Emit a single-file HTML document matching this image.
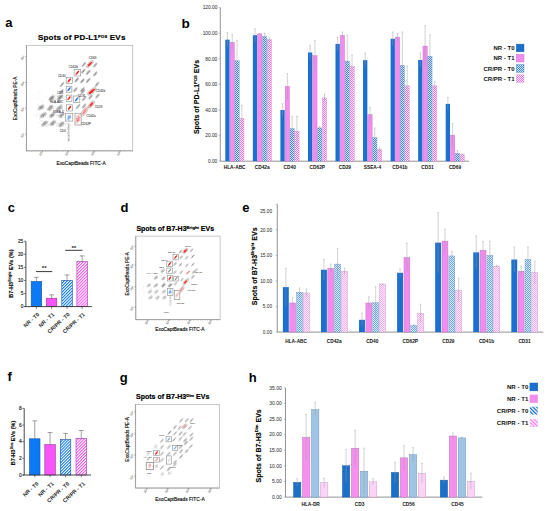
<!DOCTYPE html>
<html><head><meta charset="utf-8"><style>
html,body{margin:0;padding:0;background:#fff;width:550px;height:511px;overflow:hidden}
svg{display:block;font-family:"Liberation Sans", sans-serif}
</style></head><body>
<svg width="550" height="511" viewBox="0 0 550 511">
<defs><pattern id="chkB" width="2.0" height="2.0" patternUnits="userSpaceOnUse"><rect width="2.0" height="2.0" fill="#d8e8f8"/><rect width="1.0" height="1.0" fill="#3a86da"/><rect x="1.0" y="1.0" width="1.0" height="1.0" fill="#3a86da"/></pattern><pattern id="chkP" width="2.0" height="2.0" patternUnits="userSpaceOnUse"><rect width="2.0" height="2.0" fill="#fde6fc"/><rect width="1.0" height="1.0" fill="#ea7ae8"/><rect x="1.0" y="1.0" width="1.0" height="1.0" fill="#ea7ae8"/></pattern><pattern id="chkB2" width="2.0" height="2.0" patternUnits="userSpaceOnUse"><rect width="2.0" height="2.0" fill="#d8eaf9"/><rect width="1.0" height="1.0" fill="#6aa8e8"/><rect x="1.0" y="1.0" width="1.0" height="1.0" fill="#6aa8e8"/></pattern><pattern id="chkP2" width="2.0" height="2.0" patternUnits="userSpaceOnUse"><rect width="2.0" height="2.0" fill="#fde8fc"/><rect width="1.0" height="1.0" fill="#f4aef0"/><rect x="1.0" y="1.0" width="1.0" height="1.0" fill="#f4aef0"/></pattern><pattern id="strB" width="2.6" height="2.6" patternUnits="userSpaceOnUse" patternTransform="rotate(-45)"><rect width="2.6" height="2.6" fill="#fff"/><rect width="1.3" height="2.6" fill="#1b6fd0"/></pattern><pattern id="strP" width="2.6" height="2.6" patternUnits="userSpaceOnUse" patternTransform="rotate(-45)"><rect width="2.6" height="2.6" fill="#fff"/><rect width="1.3" height="2.6" fill="#f07cf0"/></pattern><pattern id="gpB" width="2.1" height="2.1" patternUnits="userSpaceOnUse" patternTransform="rotate(45)"><rect width="2.1" height="2.1" fill="#fff"/><rect width="1.05" height="2.1" fill="#0d7af5"/></pattern><pattern id="gpP" width="2.1" height="2.1" patternUnits="userSpaceOnUse" patternTransform="rotate(45)"><rect width="2.1" height="2.1" fill="#fff"/><rect width="1.05" height="2.1" fill="#f855f6"/></pattern><filter id="bl" x="-50%" y="-50%" width="200%" height="200%"><feGaussianBlur stdDeviation="0.3"/></filter><filter id="bl2" x="-50%" y="-50%" width="200%" height="200%"><feGaussianBlur stdDeviation="0.7"/></filter></defs>
<rect width="550" height="511" fill="#fff"/>
<text x="5.20" y="26.90" font-size="13" font-weight="bold" text-anchor="start" fill="#000" >a</text>
<text x="181.6" y="28.3" font-size="13.6" font-weight="bold" fill="#000">b</text>
<text x="7.80" y="212.20" font-size="13" font-weight="bold" text-anchor="start" fill="#000" >c</text>
<text x="120.50" y="212.00" font-size="13" font-weight="bold" text-anchor="start" fill="#000" >d</text>
<text x="242.30" y="212.10" font-size="13" font-weight="bold" text-anchor="start" fill="#000" >e</text>
<text x="7.60" y="380.50" font-size="13" font-weight="bold" text-anchor="start" fill="#000" >f</text>
<text x="119.80" y="381.50" font-size="13" font-weight="bold" text-anchor="start" fill="#000" >g</text>
<text x="248.80" y="382.30" font-size="13" font-weight="bold" text-anchor="start" fill="#000" >h</text>
<line x1="220.30" y1="7.70" x2="220.30" y2="161.20" stroke="#777" stroke-width="0.8" />
<line x1="220.30" y1="161.20" x2="469.00" y2="161.20" stroke="#777" stroke-width="0.8" />
<line x1="218.80" y1="161.20" x2="220.30" y2="161.20" stroke="#8a8a8a" stroke-width="0.6" />
<text x="217.30" y="162.90" font-size="4.8" font-weight="normal" text-anchor="end" fill="#222" >0.00</text>
<line x1="218.80" y1="135.62" x2="220.30" y2="135.62" stroke="#8a8a8a" stroke-width="0.6" />
<text x="217.30" y="137.32" font-size="4.8" font-weight="normal" text-anchor="end" fill="#222" >20.00</text>
<line x1="218.80" y1="110.03" x2="220.30" y2="110.03" stroke="#8a8a8a" stroke-width="0.6" />
<text x="217.30" y="111.73" font-size="4.8" font-weight="normal" text-anchor="end" fill="#222" >40.00</text>
<line x1="218.80" y1="84.45" x2="220.30" y2="84.45" stroke="#8a8a8a" stroke-width="0.6" />
<text x="217.30" y="86.15" font-size="4.8" font-weight="normal" text-anchor="end" fill="#222" >60.00</text>
<line x1="218.80" y1="58.87" x2="220.30" y2="58.87" stroke="#8a8a8a" stroke-width="0.6" />
<text x="217.30" y="60.57" font-size="4.8" font-weight="normal" text-anchor="end" fill="#222" >80.00</text>
<line x1="218.80" y1="33.28" x2="220.30" y2="33.28" stroke="#8a8a8a" stroke-width="0.6" />
<text x="217.30" y="34.98" font-size="4.8" font-weight="normal" text-anchor="end" fill="#222" >100.00</text>
<line x1="218.80" y1="7.70" x2="220.30" y2="7.70" stroke="#8a8a8a" stroke-width="0.6" />
<text x="217.30" y="9.40" font-size="4.8" font-weight="normal" text-anchor="end" fill="#222" >120.00</text>
<rect x="225.30" y="39.68" width="4.30" height="121.52" fill="#1b6fd0" stroke="none" stroke-width="0.4" />
<line x1="227.45" y1="32.64" x2="227.45" y2="46.71" stroke="#9a9a9a" stroke-width="0.45" />
<line x1="226.65" y1="32.64" x2="228.25" y2="32.64" stroke="#9a9a9a" stroke-width="0.45" />
<rect x="230.10" y="42.24" width="4.30" height="118.96" fill="#f48cf0" stroke="#c070c0" stroke-width="0.4" />
<line x1="232.25" y1="34.56" x2="232.25" y2="49.91" stroke="#9a9a9a" stroke-width="0.45" />
<line x1="231.45" y1="34.56" x2="233.05" y2="34.56" stroke="#9a9a9a" stroke-width="0.45" />
<rect x="234.90" y="60.79" width="4.30" height="100.41" fill="url(#chkB)" stroke="#7a9ac0" stroke-width="0.4" />
<line x1="237.05" y1="40.32" x2="237.05" y2="81.25" stroke="#9a9a9a" stroke-width="0.45" />
<line x1="236.25" y1="40.32" x2="237.85" y2="40.32" stroke="#9a9a9a" stroke-width="0.45" />
<rect x="239.70" y="118.35" width="4.30" height="42.85" fill="url(#chkP)" stroke="#c890c8" stroke-width="0.4" />
<line x1="241.85" y1="105.56" x2="241.85" y2="131.14" stroke="#9a9a9a" stroke-width="0.45" />
<line x1="241.05" y1="105.56" x2="242.65" y2="105.56" stroke="#9a9a9a" stroke-width="0.45" />
<text x="234.65" y="168.60" font-size="4.8" font-weight="bold" text-anchor="middle" fill="#111" >HLA-ABC</text>
<rect x="252.85" y="35.20" width="4.30" height="126.00" fill="#1b6fd0" stroke="none" stroke-width="0.4" />
<line x1="255.00" y1="28.81" x2="255.00" y2="41.60" stroke="#9a9a9a" stroke-width="0.45" />
<line x1="254.20" y1="28.81" x2="255.80" y2="28.81" stroke="#9a9a9a" stroke-width="0.45" />
<rect x="257.65" y="33.92" width="4.30" height="127.28" fill="#f48cf0" stroke="#c070c0" stroke-width="0.4" />
<line x1="259.80" y1="33.28" x2="259.80" y2="34.56" stroke="#9a9a9a" stroke-width="0.45" />
<line x1="259.00" y1="33.28" x2="260.60" y2="33.28" stroke="#9a9a9a" stroke-width="0.45" />
<rect x="262.45" y="36.48" width="4.30" height="124.72" fill="url(#chkB)" stroke="#7a9ac0" stroke-width="0.4" />
<line x1="264.60" y1="33.28" x2="264.60" y2="39.68" stroke="#9a9a9a" stroke-width="0.45" />
<line x1="263.80" y1="33.28" x2="265.40" y2="33.28" stroke="#9a9a9a" stroke-width="0.45" />
<rect x="267.25" y="39.68" width="4.30" height="121.52" fill="url(#chkP)" stroke="#c890c8" stroke-width="0.4" />
<line x1="269.40" y1="37.76" x2="269.40" y2="41.60" stroke="#9a9a9a" stroke-width="0.45" />
<line x1="268.60" y1="37.76" x2="270.20" y2="37.76" stroke="#9a9a9a" stroke-width="0.45" />
<text x="262.20" y="168.60" font-size="4.8" font-weight="bold" text-anchor="middle" fill="#111" >CD42a</text>
<rect x="280.40" y="110.03" width="4.30" height="51.17" fill="#1b6fd0" stroke="none" stroke-width="0.4" />
<line x1="282.55" y1="103.64" x2="282.55" y2="116.43" stroke="#9a9a9a" stroke-width="0.45" />
<line x1="281.75" y1="103.64" x2="283.35" y2="103.64" stroke="#9a9a9a" stroke-width="0.45" />
<rect x="285.20" y="86.37" width="4.30" height="74.83" fill="#f48cf0" stroke="#c070c0" stroke-width="0.4" />
<line x1="287.35" y1="73.58" x2="287.35" y2="99.16" stroke="#9a9a9a" stroke-width="0.45" />
<line x1="286.55" y1="73.58" x2="288.15" y2="73.58" stroke="#9a9a9a" stroke-width="0.45" />
<rect x="290.00" y="128.58" width="4.30" height="32.62" fill="url(#chkB)" stroke="#7a9ac0" stroke-width="0.4" />
<line x1="292.15" y1="116.43" x2="292.15" y2="140.73" stroke="#9a9a9a" stroke-width="0.45" />
<line x1="291.35" y1="116.43" x2="292.95" y2="116.43" stroke="#9a9a9a" stroke-width="0.45" />
<rect x="294.80" y="131.14" width="4.30" height="30.06" fill="url(#chkP)" stroke="#c890c8" stroke-width="0.4" />
<line x1="296.95" y1="116.43" x2="296.95" y2="145.85" stroke="#9a9a9a" stroke-width="0.45" />
<line x1="296.15" y1="116.43" x2="297.75" y2="116.43" stroke="#9a9a9a" stroke-width="0.45" />
<text x="289.75" y="168.60" font-size="4.8" font-weight="bold" text-anchor="middle" fill="#111" >CD40</text>
<rect x="307.95" y="52.47" width="4.30" height="108.73" fill="#1b6fd0" stroke="none" stroke-width="0.4" />
<line x1="310.10" y1="45.44" x2="310.10" y2="59.51" stroke="#9a9a9a" stroke-width="0.45" />
<line x1="309.30" y1="45.44" x2="310.90" y2="45.44" stroke="#9a9a9a" stroke-width="0.45" />
<rect x="312.75" y="55.67" width="4.30" height="105.53" fill="#f48cf0" stroke="#c070c0" stroke-width="0.4" />
<line x1="314.90" y1="40.32" x2="314.90" y2="71.02" stroke="#9a9a9a" stroke-width="0.45" />
<line x1="314.10" y1="40.32" x2="315.70" y2="40.32" stroke="#9a9a9a" stroke-width="0.45" />
<rect x="317.55" y="127.94" width="4.30" height="33.26" fill="url(#chkB)" stroke="#7a9ac0" stroke-width="0.4" />
<line x1="319.70" y1="126.66" x2="319.70" y2="129.22" stroke="#9a9a9a" stroke-width="0.45" />
<line x1="318.90" y1="126.66" x2="320.50" y2="126.66" stroke="#9a9a9a" stroke-width="0.45" />
<rect x="322.35" y="97.88" width="4.30" height="63.32" fill="url(#chkP)" stroke="#c890c8" stroke-width="0.4" />
<line x1="324.50" y1="94.04" x2="324.50" y2="101.72" stroke="#9a9a9a" stroke-width="0.45" />
<line x1="323.70" y1="94.04" x2="325.30" y2="94.04" stroke="#9a9a9a" stroke-width="0.45" />
<text x="317.30" y="168.60" font-size="4.8" font-weight="bold" text-anchor="middle" fill="#111" >CD62P</text>
<rect x="335.50" y="43.90" width="4.30" height="117.30" fill="#1b6fd0" stroke="none" stroke-width="0.4" />
<line x1="337.65" y1="37.12" x2="337.65" y2="50.68" stroke="#9a9a9a" stroke-width="0.45" />
<line x1="336.85" y1="37.12" x2="338.45" y2="37.12" stroke="#9a9a9a" stroke-width="0.45" />
<rect x="340.30" y="35.46" width="4.30" height="125.74" fill="#f48cf0" stroke="#c070c0" stroke-width="0.4" />
<line x1="342.45" y1="32.00" x2="342.45" y2="38.91" stroke="#9a9a9a" stroke-width="0.45" />
<line x1="341.65" y1="32.00" x2="343.25" y2="32.00" stroke="#9a9a9a" stroke-width="0.45" />
<rect x="345.10" y="61.04" width="4.30" height="100.16" fill="url(#chkB)" stroke="#7a9ac0" stroke-width="0.4" />
<line x1="347.25" y1="35.46" x2="347.25" y2="86.62" stroke="#9a9a9a" stroke-width="0.45" />
<line x1="346.45" y1="35.46" x2="348.05" y2="35.46" stroke="#9a9a9a" stroke-width="0.45" />
<rect x="349.90" y="66.67" width="4.30" height="94.53" fill="url(#chkP)" stroke="#c890c8" stroke-width="0.4" />
<line x1="352.05" y1="55.03" x2="352.05" y2="78.31" stroke="#9a9a9a" stroke-width="0.45" />
<line x1="351.25" y1="55.03" x2="352.85" y2="55.03" stroke="#9a9a9a" stroke-width="0.45" />
<text x="344.85" y="168.60" font-size="4.8" font-weight="bold" text-anchor="middle" fill="#111" >CD29</text>
<rect x="363.05" y="60.15" width="4.30" height="101.05" fill="#1b6fd0" stroke="none" stroke-width="0.4" />
<line x1="365.20" y1="53.11" x2="365.20" y2="67.18" stroke="#9a9a9a" stroke-width="0.45" />
<line x1="364.40" y1="53.11" x2="366.00" y2="53.11" stroke="#9a9a9a" stroke-width="0.45" />
<rect x="367.85" y="114.51" width="4.30" height="46.69" fill="#f48cf0" stroke="#c070c0" stroke-width="0.4" />
<line x1="370.00" y1="107.47" x2="370.00" y2="121.55" stroke="#9a9a9a" stroke-width="0.45" />
<line x1="369.20" y1="107.47" x2="370.80" y2="107.47" stroke="#9a9a9a" stroke-width="0.45" />
<rect x="372.65" y="137.54" width="4.30" height="23.66" fill="url(#chkB)" stroke="#7a9ac0" stroke-width="0.4" />
<line x1="374.80" y1="127.94" x2="374.80" y2="147.13" stroke="#9a9a9a" stroke-width="0.45" />
<line x1="374.00" y1="127.94" x2="375.60" y2="127.94" stroke="#9a9a9a" stroke-width="0.45" />
<rect x="377.45" y="149.69" width="4.30" height="11.51" fill="url(#chkP)" stroke="#c890c8" stroke-width="0.4" />
<line x1="379.60" y1="147.77" x2="379.60" y2="151.61" stroke="#9a9a9a" stroke-width="0.45" />
<line x1="378.80" y1="147.77" x2="380.40" y2="147.77" stroke="#9a9a9a" stroke-width="0.45" />
<text x="372.40" y="168.60" font-size="4.8" font-weight="bold" text-anchor="middle" fill="#111" >SSEA-4</text>
<rect x="390.60" y="38.78" width="4.30" height="122.42" fill="#1b6fd0" stroke="none" stroke-width="0.4" />
<line x1="392.75" y1="32.00" x2="392.75" y2="45.56" stroke="#9a9a9a" stroke-width="0.45" />
<line x1="391.95" y1="32.00" x2="393.55" y2="32.00" stroke="#9a9a9a" stroke-width="0.45" />
<rect x="395.40" y="37.12" width="4.30" height="124.08" fill="#f48cf0" stroke="#c070c0" stroke-width="0.4" />
<line x1="397.55" y1="33.16" x2="397.55" y2="41.09" stroke="#9a9a9a" stroke-width="0.45" />
<line x1="396.75" y1="33.16" x2="398.35" y2="33.16" stroke="#9a9a9a" stroke-width="0.45" />
<rect x="400.20" y="65.26" width="4.30" height="95.94" fill="url(#chkB)" stroke="#7a9ac0" stroke-width="0.4" />
<line x1="402.35" y1="32.00" x2="402.35" y2="98.52" stroke="#9a9a9a" stroke-width="0.45" />
<line x1="401.55" y1="32.00" x2="403.15" y2="32.00" stroke="#9a9a9a" stroke-width="0.45" />
<rect x="405.00" y="85.86" width="4.30" height="75.34" fill="url(#chkP)" stroke="#c890c8" stroke-width="0.4" />
<line x1="407.15" y1="65.90" x2="407.15" y2="105.81" stroke="#9a9a9a" stroke-width="0.45" />
<line x1="406.35" y1="65.90" x2="407.95" y2="65.90" stroke="#9a9a9a" stroke-width="0.45" />
<text x="399.95" y="168.60" font-size="4.8" font-weight="bold" text-anchor="middle" fill="#111" >CD41b</text>
<rect x="418.15" y="60.02" width="4.30" height="101.18" fill="#1b6fd0" stroke="none" stroke-width="0.4" />
<line x1="420.30" y1="52.98" x2="420.30" y2="67.05" stroke="#9a9a9a" stroke-width="0.45" />
<line x1="419.50" y1="52.98" x2="421.10" y2="52.98" stroke="#9a9a9a" stroke-width="0.45" />
<rect x="422.95" y="46.08" width="4.30" height="115.12" fill="#f48cf0" stroke="#c070c0" stroke-width="0.4" />
<line x1="425.10" y1="25.74" x2="425.10" y2="66.41" stroke="#9a9a9a" stroke-width="0.45" />
<line x1="424.30" y1="25.74" x2="425.90" y2="25.74" stroke="#9a9a9a" stroke-width="0.45" />
<rect x="427.75" y="56.18" width="4.30" height="105.02" fill="url(#chkB)" stroke="#7a9ac0" stroke-width="0.4" />
<line x1="429.90" y1="34.95" x2="429.90" y2="77.41" stroke="#9a9a9a" stroke-width="0.45" />
<line x1="429.10" y1="34.95" x2="430.70" y2="34.95" stroke="#9a9a9a" stroke-width="0.45" />
<rect x="432.55" y="85.86" width="4.30" height="75.34" fill="url(#chkP)" stroke="#c890c8" stroke-width="0.4" />
<line x1="434.70" y1="81.51" x2="434.70" y2="90.21" stroke="#9a9a9a" stroke-width="0.45" />
<line x1="433.90" y1="81.51" x2="435.50" y2="81.51" stroke="#9a9a9a" stroke-width="0.45" />
<text x="427.50" y="168.60" font-size="4.8" font-weight="bold" text-anchor="middle" fill="#111" >CD31</text>
<rect x="445.70" y="103.89" width="4.30" height="57.31" fill="#1b6fd0" stroke="none" stroke-width="0.4" />
<line x1="447.85" y1="97.50" x2="447.85" y2="110.29" stroke="#9a9a9a" stroke-width="0.45" />
<line x1="447.05" y1="97.50" x2="448.65" y2="97.50" stroke="#9a9a9a" stroke-width="0.45" />
<rect x="450.50" y="135.10" width="4.30" height="26.09" fill="#f48cf0" stroke="#c070c0" stroke-width="0.4" />
<line x1="452.65" y1="123.59" x2="452.65" y2="146.62" stroke="#9a9a9a" stroke-width="0.45" />
<line x1="451.85" y1="123.59" x2="453.45" y2="123.59" stroke="#9a9a9a" stroke-width="0.45" />
<rect x="455.30" y="153.27" width="4.30" height="7.93" fill="url(#chkB)" stroke="#7a9ac0" stroke-width="0.4" />
<line x1="457.45" y1="150.58" x2="457.45" y2="155.96" stroke="#9a9a9a" stroke-width="0.45" />
<line x1="456.65" y1="150.58" x2="458.25" y2="150.58" stroke="#9a9a9a" stroke-width="0.45" />
<rect x="460.10" y="154.80" width="4.30" height="6.40" fill="url(#chkP)" stroke="#c890c8" stroke-width="0.4" />
<line x1="462.25" y1="154.04" x2="462.25" y2="155.57" stroke="#9a9a9a" stroke-width="0.45" />
<line x1="461.45" y1="154.04" x2="463.05" y2="154.04" stroke="#9a9a9a" stroke-width="0.45" />
<text x="455.05" y="168.60" font-size="4.8" font-weight="bold" text-anchor="middle" fill="#111" >CD69</text>
<text transform="translate(199.2,97) rotate(-90)" font-size="7" font-weight="bold" text-anchor="middle" fill="#000" stroke="#000" stroke-width="0.15">Spots of PD-L1<tspan font-size="4.2" dy="-2.6">POS</tspan><tspan dy="2.6"> EVs</tspan></text>
<line x1="277.30" y1="204.30" x2="277.30" y2="332.10" stroke="#777" stroke-width="0.8" />
<line x1="277.30" y1="332.10" x2="543.30" y2="332.10" stroke="#777" stroke-width="0.8" />
<line x1="275.80" y1="332.10" x2="277.30" y2="332.10" stroke="#8a8a8a" stroke-width="0.6" />
<text x="272.10" y="333.80" font-size="4.75" font-weight="normal" text-anchor="end" fill="#222" >0.00</text>
<line x1="275.80" y1="306.54" x2="277.30" y2="306.54" stroke="#8a8a8a" stroke-width="0.6" />
<text x="272.10" y="308.24" font-size="4.75" font-weight="normal" text-anchor="end" fill="#222" >5.00</text>
<line x1="275.80" y1="280.98" x2="277.30" y2="280.98" stroke="#8a8a8a" stroke-width="0.6" />
<text x="272.10" y="282.68" font-size="4.75" font-weight="normal" text-anchor="end" fill="#222" >10.00</text>
<line x1="275.80" y1="255.42" x2="277.30" y2="255.42" stroke="#8a8a8a" stroke-width="0.6" />
<text x="272.10" y="257.12" font-size="4.75" font-weight="normal" text-anchor="end" fill="#222" >15.00</text>
<line x1="275.80" y1="229.86" x2="277.30" y2="229.86" stroke="#8a8a8a" stroke-width="0.6" />
<text x="272.10" y="231.56" font-size="4.75" font-weight="normal" text-anchor="end" fill="#222" >20.00</text>
<line x1="275.80" y1="204.30" x2="277.30" y2="204.30" stroke="#8a8a8a" stroke-width="0.6" />
<text x="272.10" y="212.70" font-size="4.75" font-weight="normal" text-anchor="end" fill="#222" >25.00</text>
<rect x="282.90" y="287.11" width="5.90" height="44.99" fill="#1b6fd0" stroke="none" stroke-width="0.4" />
<line x1="285.85" y1="268.20" x2="285.85" y2="306.03" stroke="#9a9a9a" stroke-width="0.45" />
<line x1="285.05" y1="268.20" x2="286.65" y2="268.20" stroke="#9a9a9a" stroke-width="0.45" />
<rect x="289.75" y="302.96" width="5.90" height="29.14" fill="#f48cf0" stroke="#b070b0" stroke-width="0.4" />
<line x1="292.70" y1="297.85" x2="292.70" y2="308.07" stroke="#9a9a9a" stroke-width="0.45" />
<line x1="291.90" y1="297.85" x2="293.50" y2="297.85" stroke="#9a9a9a" stroke-width="0.45" />
<rect x="296.60" y="292.23" width="5.90" height="39.87" fill="url(#chkB2)" stroke="#6a8fb8" stroke-width="0.4" />
<line x1="299.55" y1="287.88" x2="299.55" y2="296.57" stroke="#9a9a9a" stroke-width="0.45" />
<line x1="298.75" y1="287.88" x2="300.35" y2="287.88" stroke="#9a9a9a" stroke-width="0.45" />
<rect x="303.45" y="292.99" width="5.90" height="39.11" fill="url(#chkP2)" stroke="#c090c0" stroke-width="0.4" />
<line x1="306.40" y1="288.90" x2="306.40" y2="297.08" stroke="#9a9a9a" stroke-width="0.45" />
<line x1="305.60" y1="288.90" x2="307.20" y2="288.90" stroke="#9a9a9a" stroke-width="0.45" />
<text x="296.12" y="343.40" font-size="4.8" font-weight="bold" text-anchor="middle" fill="#111" >HLA-ABC</text>
<rect x="320.97" y="269.73" width="5.90" height="62.37" fill="#1b6fd0" stroke="none" stroke-width="0.4" />
<line x1="323.92" y1="259.25" x2="323.92" y2="280.21" stroke="#9a9a9a" stroke-width="0.45" />
<line x1="323.12" y1="259.25" x2="324.72" y2="259.25" stroke="#9a9a9a" stroke-width="0.45" />
<rect x="327.82" y="268.20" width="5.90" height="63.90" fill="#f48cf0" stroke="#b070b0" stroke-width="0.4" />
<line x1="330.77" y1="264.11" x2="330.77" y2="272.29" stroke="#9a9a9a" stroke-width="0.45" />
<line x1="329.97" y1="264.11" x2="331.57" y2="264.11" stroke="#9a9a9a" stroke-width="0.45" />
<rect x="334.67" y="264.11" width="5.90" height="67.99" fill="url(#chkB2)" stroke="#6a8fb8" stroke-width="0.4" />
<line x1="337.62" y1="248.52" x2="337.62" y2="279.70" stroke="#9a9a9a" stroke-width="0.45" />
<line x1="336.82" y1="248.52" x2="338.42" y2="248.52" stroke="#9a9a9a" stroke-width="0.45" />
<rect x="341.52" y="271.27" width="5.90" height="60.83" fill="url(#chkP2)" stroke="#c090c0" stroke-width="0.4" />
<line x1="344.47" y1="268.20" x2="344.47" y2="274.33" stroke="#9a9a9a" stroke-width="0.45" />
<line x1="343.67" y1="268.20" x2="345.27" y2="268.20" stroke="#9a9a9a" stroke-width="0.45" />
<text x="334.19" y="343.40" font-size="4.8" font-weight="bold" text-anchor="middle" fill="#111" >CD42a</text>
<rect x="359.04" y="319.83" width="5.90" height="12.27" fill="#1b6fd0" stroke="none" stroke-width="0.4" />
<line x1="361.99" y1="313.19" x2="361.99" y2="326.48" stroke="#9a9a9a" stroke-width="0.45" />
<line x1="361.19" y1="313.19" x2="362.79" y2="313.19" stroke="#9a9a9a" stroke-width="0.45" />
<rect x="365.89" y="302.96" width="5.90" height="29.14" fill="#f48cf0" stroke="#b070b0" stroke-width="0.4" />
<line x1="368.84" y1="296.83" x2="368.84" y2="309.10" stroke="#9a9a9a" stroke-width="0.45" />
<line x1="368.04" y1="296.83" x2="369.64" y2="296.83" stroke="#9a9a9a" stroke-width="0.45" />
<rect x="372.74" y="302.71" width="5.90" height="29.39" fill="url(#chkB2)" stroke="#6a8fb8" stroke-width="0.4" />
<line x1="375.69" y1="286.60" x2="375.69" y2="318.81" stroke="#9a9a9a" stroke-width="0.45" />
<line x1="374.89" y1="286.60" x2="376.49" y2="286.60" stroke="#9a9a9a" stroke-width="0.45" />
<rect x="379.59" y="284.05" width="5.90" height="48.05" fill="url(#chkP2)" stroke="#c090c0" stroke-width="0.4" />
<line x1="382.54" y1="283.79" x2="382.54" y2="284.30" stroke="#9a9a9a" stroke-width="0.45" />
<line x1="381.74" y1="283.79" x2="383.34" y2="283.79" stroke="#9a9a9a" stroke-width="0.45" />
<text x="372.26" y="343.40" font-size="4.8" font-weight="bold" text-anchor="middle" fill="#111" >CD40</text>
<rect x="397.11" y="272.80" width="5.90" height="59.30" fill="#1b6fd0" stroke="none" stroke-width="0.4" />
<line x1="400.06" y1="268.71" x2="400.06" y2="276.89" stroke="#9a9a9a" stroke-width="0.45" />
<line x1="399.26" y1="268.71" x2="400.86" y2="268.71" stroke="#9a9a9a" stroke-width="0.45" />
<rect x="403.96" y="257.46" width="5.90" height="74.64" fill="#f48cf0" stroke="#b070b0" stroke-width="0.4" />
<line x1="406.91" y1="243.15" x2="406.91" y2="271.78" stroke="#9a9a9a" stroke-width="0.45" />
<line x1="406.11" y1="243.15" x2="407.71" y2="243.15" stroke="#9a9a9a" stroke-width="0.45" />
<rect x="410.81" y="325.45" width="5.90" height="6.65" fill="url(#chkB2)" stroke="#6a8fb8" stroke-width="0.4" />
<line x1="413.76" y1="324.69" x2="413.76" y2="326.22" stroke="#9a9a9a" stroke-width="0.45" />
<line x1="412.96" y1="324.69" x2="414.56" y2="324.69" stroke="#9a9a9a" stroke-width="0.45" />
<rect x="417.66" y="313.19" width="5.90" height="18.91" fill="url(#chkP2)" stroke="#c090c0" stroke-width="0.4" />
<line x1="420.61" y1="304.24" x2="420.61" y2="322.13" stroke="#9a9a9a" stroke-width="0.45" />
<line x1="419.81" y1="304.24" x2="421.41" y2="304.24" stroke="#9a9a9a" stroke-width="0.45" />
<text x="410.34" y="343.40" font-size="4.8" font-weight="bold" text-anchor="middle" fill="#111" >CD62P</text>
<rect x="435.18" y="242.64" width="5.90" height="89.46" fill="#1b6fd0" stroke="none" stroke-width="0.4" />
<line x1="438.13" y1="212.48" x2="438.13" y2="272.80" stroke="#9a9a9a" stroke-width="0.45" />
<line x1="437.33" y1="212.48" x2="438.93" y2="212.48" stroke="#9a9a9a" stroke-width="0.45" />
<rect x="442.03" y="241.11" width="5.90" height="90.99" fill="#f48cf0" stroke="#b070b0" stroke-width="0.4" />
<line x1="444.98" y1="229.35" x2="444.98" y2="252.86" stroke="#9a9a9a" stroke-width="0.45" />
<line x1="444.18" y1="229.35" x2="445.78" y2="229.35" stroke="#9a9a9a" stroke-width="0.45" />
<rect x="448.88" y="255.93" width="5.90" height="76.17" fill="url(#chkB2)" stroke="#6a8fb8" stroke-width="0.4" />
<line x1="451.83" y1="251.33" x2="451.83" y2="260.53" stroke="#9a9a9a" stroke-width="0.45" />
<line x1="451.03" y1="251.33" x2="452.63" y2="251.33" stroke="#9a9a9a" stroke-width="0.45" />
<rect x="455.73" y="290.44" width="5.90" height="41.66" fill="url(#chkP2)" stroke="#c090c0" stroke-width="0.4" />
<line x1="458.68" y1="278.42" x2="458.68" y2="302.45" stroke="#9a9a9a" stroke-width="0.45" />
<line x1="457.88" y1="278.42" x2="459.48" y2="278.42" stroke="#9a9a9a" stroke-width="0.45" />
<text x="448.40" y="343.40" font-size="4.8" font-weight="bold" text-anchor="middle" fill="#111" >CD29</text>
<rect x="473.25" y="252.35" width="5.90" height="79.75" fill="#1b6fd0" stroke="none" stroke-width="0.4" />
<line x1="476.20" y1="235.99" x2="476.20" y2="268.71" stroke="#9a9a9a" stroke-width="0.45" />
<line x1="475.40" y1="235.99" x2="477.00" y2="235.99" stroke="#9a9a9a" stroke-width="0.45" />
<rect x="480.10" y="250.31" width="5.90" height="81.79" fill="#f48cf0" stroke="#b070b0" stroke-width="0.4" />
<line x1="483.05" y1="241.62" x2="483.05" y2="259.00" stroke="#9a9a9a" stroke-width="0.45" />
<line x1="482.25" y1="241.62" x2="483.85" y2="241.62" stroke="#9a9a9a" stroke-width="0.45" />
<rect x="486.95" y="255.42" width="5.90" height="76.68" fill="url(#chkB2)" stroke="#6a8fb8" stroke-width="0.4" />
<line x1="489.90" y1="241.11" x2="489.90" y2="269.73" stroke="#9a9a9a" stroke-width="0.45" />
<line x1="489.10" y1="241.11" x2="490.70" y2="241.11" stroke="#9a9a9a" stroke-width="0.45" />
<rect x="493.80" y="266.16" width="5.90" height="65.94" fill="url(#chkP2)" stroke="#c090c0" stroke-width="0.4" />
<line x1="496.75" y1="265.64" x2="496.75" y2="266.67" stroke="#9a9a9a" stroke-width="0.45" />
<line x1="495.95" y1="265.64" x2="497.55" y2="265.64" stroke="#9a9a9a" stroke-width="0.45" />
<text x="486.48" y="343.40" font-size="4.8" font-weight="bold" text-anchor="middle" fill="#111" >CD41b</text>
<rect x="511.32" y="259.51" width="5.90" height="72.59" fill="#1b6fd0" stroke="none" stroke-width="0.4" />
<line x1="514.27" y1="246.99" x2="514.27" y2="272.03" stroke="#9a9a9a" stroke-width="0.45" />
<line x1="513.47" y1="246.99" x2="515.07" y2="246.99" stroke="#9a9a9a" stroke-width="0.45" />
<rect x="518.17" y="271.27" width="5.90" height="60.83" fill="#f48cf0" stroke="#b070b0" stroke-width="0.4" />
<line x1="521.12" y1="266.16" x2="521.12" y2="276.38" stroke="#9a9a9a" stroke-width="0.45" />
<line x1="520.32" y1="266.16" x2="521.92" y2="266.16" stroke="#9a9a9a" stroke-width="0.45" />
<rect x="525.02" y="259.51" width="5.90" height="72.59" fill="url(#chkB2)" stroke="#6a8fb8" stroke-width="0.4" />
<line x1="527.97" y1="246.99" x2="527.97" y2="272.03" stroke="#9a9a9a" stroke-width="0.45" />
<line x1="527.17" y1="246.99" x2="528.77" y2="246.99" stroke="#9a9a9a" stroke-width="0.45" />
<rect x="531.87" y="272.55" width="5.90" height="59.55" fill="url(#chkP2)" stroke="#c090c0" stroke-width="0.4" />
<line x1="534.82" y1="261.04" x2="534.82" y2="284.05" stroke="#9a9a9a" stroke-width="0.45" />
<line x1="534.02" y1="261.04" x2="535.62" y2="261.04" stroke="#9a9a9a" stroke-width="0.45" />
<text x="524.54" y="343.40" font-size="4.8" font-weight="bold" text-anchor="middle" fill="#111" >CD31</text>
<text transform="translate(256.7,266.3) rotate(-90)" font-size="7" font-weight="bold" text-anchor="middle" fill="#000" stroke="#000" stroke-width="0.15">Spots of B7-H3<tspan font-size="4.2" dy="-2.6">Bright</tspan><tspan dy="2.6"> EVs</tspan></text>
<line x1="285.50" y1="388.00" x2="285.50" y2="497.10" stroke="#777" stroke-width="0.8" />
<line x1="285.50" y1="497.10" x2="482.30" y2="497.10" stroke="#777" stroke-width="0.8" />
<line x1="284.00" y1="497.10" x2="285.50" y2="497.10" stroke="#8a8a8a" stroke-width="0.6" />
<text x="281.80" y="498.80" font-size="5.0" font-weight="normal" text-anchor="end" fill="#222" >0.00</text>
<line x1="284.00" y1="481.51" x2="285.50" y2="481.51" stroke="#8a8a8a" stroke-width="0.6" />
<text x="281.80" y="483.21" font-size="5.0" font-weight="normal" text-anchor="end" fill="#222" >5.00</text>
<line x1="284.00" y1="465.93" x2="285.50" y2="465.93" stroke="#8a8a8a" stroke-width="0.6" />
<text x="281.80" y="467.63" font-size="5.0" font-weight="normal" text-anchor="end" fill="#222" >10.00</text>
<line x1="284.00" y1="450.34" x2="285.50" y2="450.34" stroke="#8a8a8a" stroke-width="0.6" />
<text x="281.80" y="452.04" font-size="5.0" font-weight="normal" text-anchor="end" fill="#222" >15.00</text>
<line x1="284.00" y1="434.76" x2="285.50" y2="434.76" stroke="#8a8a8a" stroke-width="0.6" />
<text x="281.80" y="436.46" font-size="5.0" font-weight="normal" text-anchor="end" fill="#222" >20.00</text>
<line x1="284.00" y1="419.17" x2="285.50" y2="419.17" stroke="#8a8a8a" stroke-width="0.6" />
<text x="281.80" y="420.87" font-size="5.0" font-weight="normal" text-anchor="end" fill="#222" >25.00</text>
<line x1="284.00" y1="403.59" x2="285.50" y2="403.59" stroke="#8a8a8a" stroke-width="0.6" />
<text x="281.80" y="405.29" font-size="5.0" font-weight="normal" text-anchor="end" fill="#222" >30.00</text>
<line x1="284.00" y1="388.00" x2="285.50" y2="388.00" stroke="#8a8a8a" stroke-width="0.6" />
<text x="281.80" y="389.70" font-size="5.0" font-weight="normal" text-anchor="end" fill="#222" >35.00</text>
<rect x="293.40" y="482.29" width="7.50" height="14.81" fill="#1b6fc8" stroke="#1d5fa8" stroke-width="0.4" />
<line x1="297.15" y1="478.71" x2="297.15" y2="485.88" stroke="#9a9a9a" stroke-width="0.45" />
<line x1="296.35" y1="478.71" x2="297.95" y2="478.71" stroke="#9a9a9a" stroke-width="0.45" />
<rect x="302.40" y="437.25" width="7.50" height="59.85" fill="#f590ef" stroke="#b070b0" stroke-width="0.4" />
<line x1="306.15" y1="414.18" x2="306.15" y2="460.32" stroke="#9a9a9a" stroke-width="0.45" />
<line x1="305.35" y1="414.18" x2="306.95" y2="414.18" stroke="#9a9a9a" stroke-width="0.45" />
<rect x="311.40" y="409.51" width="7.50" height="87.59" fill="#9ec4e6" stroke="#6a8fb8" stroke-width="0.4" />
<line x1="315.15" y1="402.34" x2="315.15" y2="416.68" stroke="#9a9a9a" stroke-width="0.45" />
<line x1="314.35" y1="402.34" x2="315.95" y2="402.34" stroke="#9a9a9a" stroke-width="0.45" />
<rect x="320.40" y="482.76" width="7.50" height="14.34" fill="#fcd4f8" stroke="#c090c0" stroke-width="0.4" />
<line x1="324.15" y1="478.09" x2="324.15" y2="487.44" stroke="#9a9a9a" stroke-width="0.45" />
<line x1="323.35" y1="478.09" x2="324.95" y2="478.09" stroke="#9a9a9a" stroke-width="0.45" />
<text x="310.65" y="506.20" font-size="4.8" font-weight="bold" text-anchor="middle" fill="#111" >HLA-DR</text>
<rect x="342.33" y="465.62" width="7.50" height="31.48" fill="#1b6fc8" stroke="#1d5fa8" stroke-width="0.4" />
<line x1="346.08" y1="449.41" x2="346.08" y2="481.83" stroke="#9a9a9a" stroke-width="0.45" />
<line x1="345.28" y1="449.41" x2="346.88" y2="449.41" stroke="#9a9a9a" stroke-width="0.45" />
<rect x="351.33" y="448.16" width="7.50" height="48.94" fill="#f590ef" stroke="#b070b0" stroke-width="0.4" />
<line x1="355.08" y1="430.08" x2="355.08" y2="466.24" stroke="#9a9a9a" stroke-width="0.45" />
<line x1="354.28" y1="430.08" x2="355.88" y2="430.08" stroke="#9a9a9a" stroke-width="0.45" />
<rect x="360.33" y="471.23" width="7.50" height="25.87" fill="#9ec4e6" stroke="#6a8fb8" stroke-width="0.4" />
<line x1="364.08" y1="448.16" x2="364.08" y2="494.29" stroke="#9a9a9a" stroke-width="0.45" />
<line x1="363.28" y1="448.16" x2="364.88" y2="448.16" stroke="#9a9a9a" stroke-width="0.45" />
<rect x="369.33" y="481.83" width="7.50" height="15.27" fill="#fcd4f8" stroke="#c090c0" stroke-width="0.4" />
<line x1="373.08" y1="478.71" x2="373.08" y2="484.94" stroke="#9a9a9a" stroke-width="0.45" />
<line x1="372.28" y1="478.71" x2="373.88" y2="478.71" stroke="#9a9a9a" stroke-width="0.45" />
<text x="359.58" y="506.20" font-size="4.8" font-weight="bold" text-anchor="middle" fill="#111" >CD3</text>
<rect x="391.26" y="472.32" width="7.50" height="24.78" fill="#1b6fc8" stroke="#1d5fa8" stroke-width="0.4" />
<line x1="395.01" y1="462.19" x2="395.01" y2="482.45" stroke="#9a9a9a" stroke-width="0.45" />
<line x1="394.21" y1="462.19" x2="395.81" y2="462.19" stroke="#9a9a9a" stroke-width="0.45" />
<rect x="400.26" y="457.82" width="7.50" height="39.28" fill="#f590ef" stroke="#b070b0" stroke-width="0.4" />
<line x1="404.01" y1="445.67" x2="404.01" y2="469.98" stroke="#9a9a9a" stroke-width="0.45" />
<line x1="403.21" y1="445.67" x2="404.81" y2="445.67" stroke="#9a9a9a" stroke-width="0.45" />
<rect x="409.26" y="454.55" width="7.50" height="42.55" fill="#9ec4e6" stroke="#6a8fb8" stroke-width="0.4" />
<line x1="413.01" y1="447.54" x2="413.01" y2="461.56" stroke="#9a9a9a" stroke-width="0.45" />
<line x1="412.21" y1="447.54" x2="413.81" y2="447.54" stroke="#9a9a9a" stroke-width="0.45" />
<rect x="418.26" y="473.25" width="7.50" height="23.85" fill="#fcd4f8" stroke="#c090c0" stroke-width="0.4" />
<line x1="422.01" y1="463.43" x2="422.01" y2="483.07" stroke="#9a9a9a" stroke-width="0.45" />
<line x1="421.21" y1="463.43" x2="422.81" y2="463.43" stroke="#9a9a9a" stroke-width="0.45" />
<text x="408.51" y="506.20" font-size="4.8" font-weight="bold" text-anchor="middle" fill="#111" >CD56</text>
<rect x="440.19" y="480.11" width="7.50" height="16.99" fill="#1b6fc8" stroke="#1d5fa8" stroke-width="0.4" />
<line x1="443.94" y1="476.84" x2="443.94" y2="483.38" stroke="#9a9a9a" stroke-width="0.45" />
<line x1="443.14" y1="476.84" x2="444.74" y2="476.84" stroke="#9a9a9a" stroke-width="0.45" />
<rect x="449.19" y="436.00" width="7.50" height="61.10" fill="#f590ef" stroke="#b070b0" stroke-width="0.4" />
<line x1="452.94" y1="432.89" x2="452.94" y2="439.12" stroke="#9a9a9a" stroke-width="0.45" />
<line x1="452.14" y1="432.89" x2="453.74" y2="432.89" stroke="#9a9a9a" stroke-width="0.45" />
<rect x="458.19" y="437.87" width="7.50" height="59.23" fill="#9ec4e6" stroke="#6a8fb8" stroke-width="0.4" />
<line x1="461.94" y1="437.25" x2="461.94" y2="438.50" stroke="#9a9a9a" stroke-width="0.45" />
<line x1="461.14" y1="437.25" x2="462.74" y2="437.25" stroke="#9a9a9a" stroke-width="0.45" />
<rect x="467.19" y="481.20" width="7.50" height="15.90" fill="#fcd4f8" stroke="#c090c0" stroke-width="0.4" />
<line x1="470.94" y1="473.10" x2="470.94" y2="489.31" stroke="#9a9a9a" stroke-width="0.45" />
<line x1="470.14" y1="473.10" x2="471.74" y2="473.10" stroke="#9a9a9a" stroke-width="0.45" />
<text x="457.44" y="506.20" font-size="4.8" font-weight="bold" text-anchor="middle" fill="#111" >CD45</text>
<text transform="translate(260.7,445.9) rotate(-90)" font-size="7" font-weight="bold" text-anchor="middle" fill="#000" stroke="#000" stroke-width="0.15">Spots of B7-H3<tspan font-size="4.2" dy="-2.6">Dim</tspan><tspan dy="2.6"> EVs</tspan></text>
<rect x="516.30" y="44.10" width="7.70" height="7.70" fill="#1b6fd0" stroke="#1d5fa8" stroke-width="0.4" />
<text x="514.50" y="50.11" font-size="6.0" font-weight="bold" text-anchor="end" fill="#111" >NR - T0</text>
<rect x="516.30" y="54.30" width="7.70" height="7.70" fill="#f48cf0" stroke="#c070c0" stroke-width="0.4" />
<text x="514.50" y="60.31" font-size="6.0" font-weight="bold" text-anchor="end" fill="#111" >NR - T1</text>
<rect x="516.30" y="64.60" width="7.70" height="7.70" fill="url(#chkB)" stroke="#4a7ab8" stroke-width="0.4" />
<text x="514.50" y="70.61" font-size="6.0" font-weight="bold" text-anchor="end" fill="#111" >CR/PR - T0</text>
<rect x="516.30" y="74.80" width="7.70" height="7.70" fill="url(#chkP)" stroke="#e0a0e0" stroke-width="0.4" />
<text x="514.50" y="80.81" font-size="6.0" font-weight="bold" text-anchor="end" fill="#111" >CR/PR - T1</text>
<rect x="529.90" y="383.00" width="7.90" height="7.90" fill="#1b6fd0" stroke="#1d5fa8" stroke-width="0.4" />
<text x="528.30" y="389.15" font-size="6.1" font-weight="bold" text-anchor="end" fill="#111" >NR - T0</text>
<rect x="529.90" y="394.90" width="7.90" height="7.90" fill="#f48cf0" stroke="#e0a0e0" stroke-width="0.4" />
<text x="528.30" y="401.05" font-size="6.1" font-weight="bold" text-anchor="end" fill="#111" >NR - T1</text>
<rect x="529.90" y="406.70" width="7.90" height="7.90" fill="url(#strB)" stroke="none" stroke-width="0.4" />
<text x="528.30" y="412.85" font-size="6.1" font-weight="bold" text-anchor="end" fill="#111" >CR/PR - T0</text>
<rect x="529.90" y="419.10" width="7.90" height="7.90" fill="url(#strP)" stroke="none" stroke-width="0.4" />
<text x="528.30" y="425.25" font-size="6.1" font-weight="bold" text-anchor="end" fill="#111" >CR/PR - T1</text>
<rect x="31.20" y="281.49" width="10.50" height="25.11" fill="#0d7af5" stroke="#1450a0" stroke-width="0.6" />
<line x1="36.45" y1="277.30" x2="36.45" y2="281.49" stroke="#444" stroke-width="0.5" />
<line x1="34.05" y1="277.30" x2="38.85" y2="277.30" stroke="#444" stroke-width="0.5" />
<line x1="36.45" y1="306.60" x2="36.45" y2="308.80" stroke="#333" stroke-width="0.6" />
<rect x="46.30" y="298.23" width="10.50" height="8.37" fill="#f855f6" stroke="#a030a0" stroke-width="0.6" />
<line x1="51.55" y1="294.83" x2="51.55" y2="298.23" stroke="#444" stroke-width="0.5" />
<line x1="49.15" y1="294.83" x2="53.95" y2="294.83" stroke="#444" stroke-width="0.5" />
<line x1="51.55" y1="306.60" x2="51.55" y2="308.80" stroke="#333" stroke-width="0.6" />
<rect x="61.80" y="280.44" width="10.50" height="26.16" fill="url(#gpB)" stroke="#1450a0" stroke-width="0.6" />
<line x1="67.05" y1="274.95" x2="67.05" y2="280.44" stroke="#444" stroke-width="0.5" />
<line x1="64.65" y1="274.95" x2="69.45" y2="274.95" stroke="#444" stroke-width="0.5" />
<line x1="67.05" y1="306.60" x2="67.05" y2="308.80" stroke="#333" stroke-width="0.6" />
<rect x="76.90" y="261.60" width="10.50" height="45.00" fill="url(#gpP)" stroke="#a030a0" stroke-width="0.6" />
<line x1="82.15" y1="255.85" x2="82.15" y2="261.60" stroke="#444" stroke-width="0.5" />
<line x1="79.75" y1="255.85" x2="84.55" y2="255.85" stroke="#444" stroke-width="0.5" />
<line x1="82.15" y1="306.60" x2="82.15" y2="308.80" stroke="#333" stroke-width="0.6" />
<line x1="25.90" y1="241.20" x2="25.90" y2="306.60" stroke="#333" stroke-width="0.9" />
<line x1="24.40" y1="306.60" x2="91.90" y2="306.60" stroke="#333" stroke-width="0.9" />
<line x1="23.90" y1="306.60" x2="25.90" y2="306.60" stroke="#333" stroke-width="0.6" />
<text x="23.30" y="308.30" font-size="4.8" font-weight="normal" text-anchor="end" fill="#222" stroke="#222" stroke-width="0.15">0</text>
<line x1="23.90" y1="293.52" x2="25.90" y2="293.52" stroke="#333" stroke-width="0.6" />
<text x="23.30" y="295.22" font-size="4.8" font-weight="normal" text-anchor="end" fill="#222" stroke="#222" stroke-width="0.15">5</text>
<line x1="23.90" y1="280.44" x2="25.90" y2="280.44" stroke="#333" stroke-width="0.6" />
<text x="23.30" y="282.14" font-size="4.8" font-weight="normal" text-anchor="end" fill="#222" stroke="#222" stroke-width="0.15">10</text>
<line x1="23.90" y1="267.36" x2="25.90" y2="267.36" stroke="#333" stroke-width="0.6" />
<text x="23.30" y="269.06" font-size="4.8" font-weight="normal" text-anchor="end" fill="#222" stroke="#222" stroke-width="0.15">15</text>
<line x1="23.90" y1="254.28" x2="25.90" y2="254.28" stroke="#333" stroke-width="0.6" />
<text x="23.30" y="255.98" font-size="4.8" font-weight="normal" text-anchor="end" fill="#222" stroke="#222" stroke-width="0.15">20</text>
<line x1="23.90" y1="241.20" x2="25.90" y2="241.20" stroke="#333" stroke-width="0.6" />
<text x="23.30" y="242.90" font-size="4.8" font-weight="normal" text-anchor="end" fill="#222" stroke="#222" stroke-width="0.15">25</text>
<text transform="translate(39.65,315.00) rotate(-42)" font-size="5.4" font-weight="bold" text-anchor="end" fill="#222">NR - T0</text>
<text transform="translate(54.75,315.00) rotate(-42)" font-size="5.4" font-weight="bold" text-anchor="end" fill="#222">NR - T1</text>
<text transform="translate(70.25,315.00) rotate(-42)" font-size="5.4" font-weight="bold" text-anchor="end" fill="#222">CR/PR - T0</text>
<text transform="translate(85.35,315.00) rotate(-42)" font-size="5.4" font-weight="bold" text-anchor="end" fill="#222">CR/PR - T1</text>
<text transform="translate(13.30,273.60) rotate(-90)" font-size="5.5" font-weight="bold" text-anchor="middle" fill="#111" stroke="#111" stroke-width="0.15">B7-H3<tspan font-size="3.5" dy="-2">Bright</tspan><tspan dy="2"> EVs (%)</tspan></text>
<line x1="36.00" y1="271.60" x2="52.30" y2="271.60" stroke="#222" stroke-width="0.9" />
<text x="44.20" y="269.60" font-size="6" font-weight="bold" text-anchor="middle" fill="#222" >**</text>
<line x1="65.20" y1="250.30" x2="82.50" y2="250.30" stroke="#222" stroke-width="0.9" />
<text x="73.80" y="249.60" font-size="6" font-weight="bold" text-anchor="middle" fill="#222" >**</text>
<rect x="29.50" y="438.79" width="10.50" height="36.21" fill="#0d7af5" stroke="#1450a0" stroke-width="0.6" />
<line x1="34.75" y1="420.89" x2="34.75" y2="438.79" stroke="#444" stroke-width="0.5" />
<line x1="32.35" y1="420.89" x2="37.15" y2="420.89" stroke="#444" stroke-width="0.5" />
<line x1="34.75" y1="475.00" x2="34.75" y2="477.20" stroke="#333" stroke-width="0.6" />
<rect x="44.80" y="444.61" width="10.50" height="30.39" fill="#f855f6" stroke="#a030a0" stroke-width="0.6" />
<line x1="50.05" y1="432.54" x2="50.05" y2="444.61" stroke="#444" stroke-width="0.5" />
<line x1="47.65" y1="432.54" x2="52.45" y2="432.54" stroke="#444" stroke-width="0.5" />
<line x1="50.05" y1="475.00" x2="50.05" y2="477.20" stroke="#333" stroke-width="0.6" />
<rect x="60.30" y="439.62" width="10.50" height="35.38" fill="url(#gpB)" stroke="#1450a0" stroke-width="0.6" />
<line x1="65.55" y1="433.38" x2="65.55" y2="439.62" stroke="#444" stroke-width="0.5" />
<line x1="63.15" y1="433.38" x2="67.95" y2="433.38" stroke="#444" stroke-width="0.5" />
<line x1="65.55" y1="475.00" x2="65.55" y2="477.20" stroke="#333" stroke-width="0.6" />
<rect x="76.00" y="438.37" width="10.50" height="36.63" fill="url(#gpP)" stroke="#a030a0" stroke-width="0.6" />
<line x1="81.25" y1="430.46" x2="81.25" y2="438.37" stroke="#444" stroke-width="0.5" />
<line x1="78.85" y1="430.46" x2="83.65" y2="430.46" stroke="#444" stroke-width="0.5" />
<line x1="81.25" y1="475.00" x2="81.25" y2="477.20" stroke="#333" stroke-width="0.6" />
<line x1="24.20" y1="408.40" x2="24.20" y2="475.00" stroke="#333" stroke-width="0.9" />
<line x1="22.70" y1="475.00" x2="91.00" y2="475.00" stroke="#333" stroke-width="0.9" />
<line x1="22.20" y1="475.00" x2="24.20" y2="475.00" stroke="#333" stroke-width="0.6" />
<text x="21.60" y="476.70" font-size="4.8" font-weight="normal" text-anchor="end" fill="#222" stroke="#222" stroke-width="0.15">0</text>
<line x1="22.20" y1="458.35" x2="24.20" y2="458.35" stroke="#333" stroke-width="0.6" />
<text x="21.60" y="460.05" font-size="4.8" font-weight="normal" text-anchor="end" fill="#222" stroke="#222" stroke-width="0.15">2</text>
<line x1="22.20" y1="441.70" x2="24.20" y2="441.70" stroke="#333" stroke-width="0.6" />
<text x="21.60" y="443.40" font-size="4.8" font-weight="normal" text-anchor="end" fill="#222" stroke="#222" stroke-width="0.15">4</text>
<line x1="22.20" y1="425.05" x2="24.20" y2="425.05" stroke="#333" stroke-width="0.6" />
<text x="21.60" y="426.75" font-size="4.8" font-weight="normal" text-anchor="end" fill="#222" stroke="#222" stroke-width="0.15">6</text>
<line x1="22.20" y1="408.40" x2="24.20" y2="408.40" stroke="#333" stroke-width="0.6" />
<text x="21.60" y="410.10" font-size="4.8" font-weight="normal" text-anchor="end" fill="#222" stroke="#222" stroke-width="0.15">8</text>
<text transform="translate(38.95,484.30) rotate(-42)" font-size="5.4" font-weight="bold" text-anchor="end" fill="#222">NR - T0</text>
<text transform="translate(54.25,484.30) rotate(-42)" font-size="5.4" font-weight="bold" text-anchor="end" fill="#222">NR - T1</text>
<text transform="translate(69.75,484.30) rotate(-42)" font-size="5.4" font-weight="bold" text-anchor="end" fill="#222">CR/PR - T0</text>
<text transform="translate(85.45,484.30) rotate(-42)" font-size="5.4" font-weight="bold" text-anchor="end" fill="#222">CR/PR - T1</text>
<text transform="translate(14.60,443.00) rotate(-90)" font-size="5.5" font-weight="bold" text-anchor="middle" fill="#111" stroke="#111" stroke-width="0.15">B7-H3<tspan font-size="3.5" dy="-2">Dim</tspan><tspan dy="2"> EVs (%)</tspan></text>
<rect x="26.50" y="45.30" width="106.20" height="105.50" fill="none" stroke="#b0b0b0" stroke-width="0.7" />
<line x1="26.50" y1="45.30" x2="26.50" y2="150.80" stroke="#8a8a8a" stroke-width="0.6" />
<line x1="26.50" y1="150.80" x2="132.70" y2="150.80" stroke="#8a8a8a" stroke-width="0.6" />
<text x="38.00" y="40.30" font-size="8.0" font-weight="bold" text-anchor="start" fill="#000" letter-spacing="0.19" stroke="#000" stroke-width="0.2">Spots of PD-L1<tspan font-size="4.2" dy="-2.5">POS</tspan><tspan dy="2.5"> EVs</tspan></text>
<line x1="42.43" y1="150.80" x2="42.43" y2="152.10" stroke="#666" stroke-width="0.5" />
<text transform="translate(43.33,152.80) rotate(-45)" font-size="3.1" text-anchor="end" fill="#333">10<tspan font-size="2.1" dy="-1.0">2</tspan></text>
<line x1="25.20" y1="56.59" x2="26.50" y2="56.59" stroke="#666" stroke-width="0.5" />
<text transform="translate(24.90,57.19) rotate(-45)" font-size="3.1" text-anchor="end" fill="#333">10<tspan font-size="2.1" dy="-1.0">5</tspan></text>
<line x1="68.34" y1="150.80" x2="68.34" y2="152.10" stroke="#666" stroke-width="0.5" />
<text transform="translate(69.24,152.80) rotate(-45)" font-size="3.1" text-anchor="end" fill="#333">10<tspan font-size="2.1" dy="-1.0">3</tspan></text>
<line x1="25.20" y1="82.44" x2="26.50" y2="82.44" stroke="#666" stroke-width="0.5" />
<text transform="translate(24.90,83.04) rotate(-45)" font-size="3.1" text-anchor="end" fill="#333">10<tspan font-size="2.1" dy="-1.0">4</tspan></text>
<line x1="94.26" y1="150.80" x2="94.26" y2="152.10" stroke="#666" stroke-width="0.5" />
<text transform="translate(95.16,152.80) rotate(-45)" font-size="3.1" text-anchor="end" fill="#333">10<tspan font-size="2.1" dy="-1.0">4</tspan></text>
<line x1="25.20" y1="108.18" x2="26.50" y2="108.18" stroke="#666" stroke-width="0.5" />
<text transform="translate(24.90,108.78) rotate(-45)" font-size="3.1" text-anchor="end" fill="#333">10<tspan font-size="2.1" dy="-1.0">3</tspan></text>
<line x1="120.17" y1="150.80" x2="120.17" y2="152.10" stroke="#666" stroke-width="0.5" />
<text transform="translate(121.07,152.80) rotate(-45)" font-size="3.1" text-anchor="end" fill="#333">10<tspan font-size="2.1" dy="-1.0">5</tspan></text>
<line x1="25.20" y1="134.03" x2="26.50" y2="134.03" stroke="#666" stroke-width="0.5" />
<text transform="translate(24.90,134.63) rotate(-45)" font-size="3.1" text-anchor="end" fill="#333">10<tspan font-size="2.1" dy="-1.0">2</tspan></text>
<line x1="26.50" y1="151.40" x2="132.70" y2="151.40" stroke="#999" stroke-width="0.6" stroke-dasharray="0.5 1.8"/>
<line x1="25.90" y1="45.30" x2="25.90" y2="150.80" stroke="#999" stroke-width="0.6" stroke-dasharray="0.5 1.8"/>
<text x="81.10" y="165.00" font-size="4.85" font-weight="normal" text-anchor="middle" fill="#000" stroke="#000" stroke-width="0.12">ExoCaptBeads FITC-A</text>
<text transform="translate(17.20,98.50) rotate(-90)" font-size="4.7" text-anchor="middle" fill="#000" stroke="#000" stroke-width="0.12">ExoCaptBeads PE-A</text>
<ellipse cx="83.80" cy="64.50" rx="3.00" ry="0.85" transform="rotate(-50 83.80 64.50)" fill="#6c6c6c" opacity="0.78" filter="url(#bl)"/>
<ellipse cx="95.20" cy="65.00" rx="3.00" ry="0.85" transform="rotate(-50 95.20 65.00)" fill="#6c6c6c" opacity="0.78" filter="url(#bl)"/>
<ellipse cx="83.30" cy="71.10" rx="3.00" ry="0.85" transform="rotate(-50 83.30 71.10)" fill="#6c6c6c" opacity="0.78" filter="url(#bl)"/>
<ellipse cx="88.20" cy="72.40" rx="3.00" ry="0.85" transform="rotate(-50 88.20 72.40)" fill="#6c6c6c" opacity="0.78" filter="url(#bl)"/>
<ellipse cx="95.20" cy="73.80" rx="3.00" ry="0.85" transform="rotate(-50 95.20 73.80)" fill="#6c6c6c" opacity="0.78" filter="url(#bl)"/>
<ellipse cx="76.70" cy="79.90" rx="3.00" ry="0.85" transform="rotate(-50 76.70 79.90)" fill="#6c6c6c" opacity="0.78" filter="url(#bl)"/>
<ellipse cx="82.40" cy="80.80" rx="3.00" ry="0.85" transform="rotate(-50 82.40 80.80)" fill="#6c6c6c" opacity="0.78" filter="url(#bl)"/>
<ellipse cx="88.20" cy="80.40" rx="3.00" ry="0.85" transform="rotate(-50 88.20 80.40)" fill="#6c6c6c" opacity="0.78" filter="url(#bl)"/>
<ellipse cx="75.40" cy="89.60" rx="3.00" ry="0.85" transform="rotate(-50 75.40 89.60)" fill="#6c6c6c" opacity="0.78" filter="url(#bl)"/>
<ellipse cx="82.40" cy="89.60" rx="3.00" ry="0.85" transform="rotate(-50 82.40 89.60)" fill="#6c6c6c" opacity="0.78" filter="url(#bl)"/>
<ellipse cx="97.00" cy="84.30" rx="3.00" ry="0.85" transform="rotate(-50 97.00 84.30)" fill="#6c6c6c" opacity="0.78" filter="url(#bl)"/>
<ellipse cx="82.90" cy="91.60" rx="3.00" ry="0.85" transform="rotate(-50 82.90 91.60)" fill="#6c6c6c" opacity="0.78" filter="url(#bl)"/>
<ellipse cx="84.20" cy="98.50" rx="3.00" ry="0.85" transform="rotate(-50 84.20 98.50)" fill="#6c6c6c" opacity="0.78" filter="url(#bl)"/>
<ellipse cx="90.50" cy="97.00" rx="3.00" ry="0.85" transform="rotate(-50 90.50 97.00)" fill="#6c6c6c" opacity="0.78" filter="url(#bl)"/>
<ellipse cx="97.50" cy="96.00" rx="3.00" ry="0.85" transform="rotate(-50 97.50 96.00)" fill="#6c6c6c" opacity="0.78" filter="url(#bl)"/>
<ellipse cx="78.00" cy="106.50" rx="3.00" ry="0.85" transform="rotate(-50 78.00 106.50)" fill="#6c6c6c" opacity="0.78" filter="url(#bl)"/>
<ellipse cx="62.00" cy="84.50" rx="3.00" ry="0.85" transform="rotate(-50 62.00 84.50)" fill="#6c6c6c" opacity="0.78" filter="url(#bl)"/>
<ellipse cx="61.50" cy="91.50" rx="3.00" ry="0.85" transform="rotate(-50 61.50 91.50)" fill="#6c6c6c" opacity="0.78" filter="url(#bl)"/>
<ellipse cx="60.10" cy="97.40" rx="3.00" ry="0.85" transform="rotate(-50 60.10 97.40)" fill="#6c6c6c" opacity="0.78" filter="url(#bl)"/>
<ellipse cx="51.60" cy="98.10" rx="3.00" ry="0.85" transform="rotate(-50 51.60 98.10)" fill="#6c6c6c" opacity="0.78" filter="url(#bl)"/>
<ellipse cx="84.00" cy="106.00" rx="3.00" ry="0.85" transform="rotate(-50 84.00 106.00)" fill="#6c6c6c" opacity="0.78" filter="url(#bl)"/>
<ellipse cx="41.10" cy="107.30" rx="3.75" ry="1.90" transform="rotate(-40 41.10 107.30)" fill="#999" opacity="0.6" filter="url(#bl2)"/>
<ellipse cx="41.10" cy="107.30" rx="2.25" ry="0.70" transform="rotate(-45 41.10 107.30)" fill="#777" opacity="0.6" filter="url(#bl)"/>
<circle cx="40.54" cy="108.22" r="0.38" fill="#666" opacity="0.5"/>
<circle cx="40.60" cy="106.73" r="0.38" fill="#666" opacity="0.5"/>
<circle cx="39.05" cy="106.92" r="0.38" fill="#666" opacity="0.5"/>
<circle cx="43.55" cy="108.06" r="0.38" fill="#666" opacity="0.5"/>
<circle cx="43.38" cy="107.75" r="0.38" fill="#666" opacity="0.5"/>
<circle cx="41.97" cy="107.63" r="0.38" fill="#666" opacity="0.5"/>
<circle cx="37.43" cy="108.84" r="0.38" fill="#666" opacity="0.5"/>
<circle cx="42.21" cy="108.20" r="0.38" fill="#666" opacity="0.5"/>
<circle cx="37.38" cy="104.16" r="0.38" fill="#666" opacity="0.5"/>
<circle cx="39.14" cy="106.46" r="0.38" fill="#666" opacity="0.5"/>
<circle cx="41.77" cy="107.22" r="0.38" fill="#666" opacity="0.5"/>
<circle cx="42.25" cy="106.14" r="0.38" fill="#666" opacity="0.5"/>
<circle cx="41.78" cy="108.01" r="0.38" fill="#666" opacity="0.5"/>
<circle cx="39.65" cy="110.39" r="0.38" fill="#666" opacity="0.5"/>
<circle cx="42.32" cy="109.45" r="0.38" fill="#666" opacity="0.5"/>
<circle cx="39.74" cy="105.97" r="0.38" fill="#666" opacity="0.5"/>
<ellipse cx="50.30" cy="107.90" rx="3.75" ry="1.90" transform="rotate(-40 50.30 107.90)" fill="#999" opacity="0.6" filter="url(#bl2)"/>
<ellipse cx="50.30" cy="107.90" rx="2.25" ry="0.70" transform="rotate(-45 50.30 107.90)" fill="#777" opacity="0.6" filter="url(#bl)"/>
<circle cx="49.54" cy="107.71" r="0.38" fill="#666" opacity="0.5"/>
<circle cx="51.69" cy="108.35" r="0.38" fill="#666" opacity="0.5"/>
<circle cx="49.32" cy="106.18" r="0.38" fill="#666" opacity="0.5"/>
<circle cx="49.15" cy="110.10" r="0.38" fill="#666" opacity="0.5"/>
<circle cx="48.52" cy="108.34" r="0.38" fill="#666" opacity="0.5"/>
<circle cx="51.24" cy="105.22" r="0.38" fill="#666" opacity="0.5"/>
<circle cx="50.41" cy="110.25" r="0.38" fill="#666" opacity="0.5"/>
<circle cx="45.87" cy="107.32" r="0.38" fill="#666" opacity="0.5"/>
<circle cx="50.07" cy="106.43" r="0.38" fill="#666" opacity="0.5"/>
<circle cx="51.39" cy="107.79" r="0.38" fill="#666" opacity="0.5"/>
<circle cx="47.08" cy="109.39" r="0.38" fill="#666" opacity="0.5"/>
<circle cx="51.77" cy="109.60" r="0.38" fill="#666" opacity="0.5"/>
<circle cx="53.47" cy="108.55" r="0.38" fill="#666" opacity="0.5"/>
<circle cx="50.56" cy="105.56" r="0.38" fill="#666" opacity="0.5"/>
<circle cx="51.65" cy="106.80" r="0.38" fill="#666" opacity="0.5"/>
<circle cx="49.30" cy="105.62" r="0.38" fill="#666" opacity="0.5"/>
<ellipse cx="59.40" cy="107.90" rx="3.75" ry="1.90" transform="rotate(-40 59.40 107.90)" fill="#999" opacity="0.6" filter="url(#bl2)"/>
<ellipse cx="59.40" cy="107.90" rx="2.25" ry="0.70" transform="rotate(-45 59.40 107.90)" fill="#777" opacity="0.6" filter="url(#bl)"/>
<circle cx="57.27" cy="106.94" r="0.38" fill="#666" opacity="0.5"/>
<circle cx="62.24" cy="104.24" r="0.38" fill="#666" opacity="0.5"/>
<circle cx="56.19" cy="108.33" r="0.38" fill="#666" opacity="0.5"/>
<circle cx="62.58" cy="108.94" r="0.38" fill="#666" opacity="0.5"/>
<circle cx="55.22" cy="103.37" r="0.38" fill="#666" opacity="0.5"/>
<circle cx="60.19" cy="106.57" r="0.38" fill="#666" opacity="0.5"/>
<circle cx="56.94" cy="109.66" r="0.38" fill="#666" opacity="0.5"/>
<circle cx="61.82" cy="108.18" r="0.38" fill="#666" opacity="0.5"/>
<circle cx="59.94" cy="108.68" r="0.38" fill="#666" opacity="0.5"/>
<circle cx="62.91" cy="109.01" r="0.38" fill="#666" opacity="0.5"/>
<circle cx="60.54" cy="108.89" r="0.38" fill="#666" opacity="0.5"/>
<circle cx="55.95" cy="110.21" r="0.38" fill="#666" opacity="0.5"/>
<circle cx="61.50" cy="108.85" r="0.38" fill="#666" opacity="0.5"/>
<circle cx="55.06" cy="106.76" r="0.38" fill="#666" opacity="0.5"/>
<circle cx="61.25" cy="104.64" r="0.38" fill="#666" opacity="0.5"/>
<circle cx="59.00" cy="109.74" r="0.38" fill="#666" opacity="0.5"/>
<ellipse cx="43.10" cy="115.10" rx="3.75" ry="1.90" transform="rotate(-40 43.10 115.10)" fill="#999" opacity="0.6" filter="url(#bl2)"/>
<ellipse cx="43.10" cy="115.10" rx="2.25" ry="0.70" transform="rotate(-45 43.10 115.10)" fill="#777" opacity="0.6" filter="url(#bl)"/>
<circle cx="40.22" cy="118.00" r="0.38" fill="#666" opacity="0.5"/>
<circle cx="44.31" cy="114.83" r="0.38" fill="#666" opacity="0.5"/>
<circle cx="43.81" cy="116.27" r="0.38" fill="#666" opacity="0.5"/>
<circle cx="43.36" cy="117.16" r="0.38" fill="#666" opacity="0.5"/>
<circle cx="41.64" cy="114.35" r="0.38" fill="#666" opacity="0.5"/>
<circle cx="45.39" cy="115.15" r="0.38" fill="#666" opacity="0.5"/>
<circle cx="41.16" cy="116.80" r="0.38" fill="#666" opacity="0.5"/>
<circle cx="46.32" cy="114.30" r="0.38" fill="#666" opacity="0.5"/>
<circle cx="40.06" cy="114.86" r="0.38" fill="#666" opacity="0.5"/>
<circle cx="42.77" cy="114.56" r="0.38" fill="#666" opacity="0.5"/>
<circle cx="46.19" cy="113.25" r="0.38" fill="#666" opacity="0.5"/>
<circle cx="45.87" cy="112.82" r="0.38" fill="#666" opacity="0.5"/>
<circle cx="41.37" cy="116.24" r="0.38" fill="#666" opacity="0.5"/>
<circle cx="45.58" cy="116.65" r="0.38" fill="#666" opacity="0.5"/>
<circle cx="43.86" cy="115.36" r="0.38" fill="#666" opacity="0.5"/>
<circle cx="43.44" cy="116.14" r="0.38" fill="#666" opacity="0.5"/>
<ellipse cx="52.20" cy="115.10" rx="3.75" ry="1.90" transform="rotate(-40 52.20 115.10)" fill="#999" opacity="0.6" filter="url(#bl2)"/>
<ellipse cx="52.20" cy="115.10" rx="2.25" ry="0.70" transform="rotate(-45 52.20 115.10)" fill="#777" opacity="0.6" filter="url(#bl)"/>
<circle cx="51.81" cy="115.60" r="0.38" fill="#666" opacity="0.5"/>
<circle cx="53.46" cy="115.10" r="0.38" fill="#666" opacity="0.5"/>
<circle cx="53.88" cy="116.12" r="0.38" fill="#666" opacity="0.5"/>
<circle cx="56.62" cy="115.68" r="0.38" fill="#666" opacity="0.5"/>
<circle cx="51.26" cy="114.43" r="0.38" fill="#666" opacity="0.5"/>
<circle cx="52.17" cy="116.76" r="0.38" fill="#666" opacity="0.5"/>
<circle cx="51.46" cy="115.79" r="0.38" fill="#666" opacity="0.5"/>
<circle cx="56.24" cy="110.48" r="0.38" fill="#666" opacity="0.5"/>
<circle cx="49.73" cy="115.54" r="0.38" fill="#666" opacity="0.5"/>
<circle cx="53.08" cy="115.53" r="0.38" fill="#666" opacity="0.5"/>
<circle cx="51.25" cy="116.28" r="0.38" fill="#666" opacity="0.5"/>
<circle cx="52.82" cy="114.16" r="0.38" fill="#666" opacity="0.5"/>
<circle cx="57.55" cy="115.74" r="0.38" fill="#666" opacity="0.5"/>
<circle cx="50.98" cy="114.92" r="0.38" fill="#666" opacity="0.5"/>
<circle cx="51.70" cy="114.99" r="0.38" fill="#666" opacity="0.5"/>
<circle cx="46.20" cy="114.22" r="0.38" fill="#666" opacity="0.5"/>
<ellipse cx="61.40" cy="115.10" rx="3.75" ry="1.90" transform="rotate(-40 61.40 115.10)" fill="#999" opacity="0.6" filter="url(#bl2)"/>
<ellipse cx="61.40" cy="115.10" rx="2.25" ry="0.70" transform="rotate(-45 61.40 115.10)" fill="#777" opacity="0.6" filter="url(#bl)"/>
<circle cx="63.62" cy="113.00" r="0.38" fill="#666" opacity="0.5"/>
<circle cx="61.25" cy="116.82" r="0.38" fill="#666" opacity="0.5"/>
<circle cx="63.28" cy="117.78" r="0.38" fill="#666" opacity="0.5"/>
<circle cx="57.66" cy="114.46" r="0.38" fill="#666" opacity="0.5"/>
<circle cx="60.65" cy="116.22" r="0.38" fill="#666" opacity="0.5"/>
<circle cx="63.80" cy="110.27" r="0.38" fill="#666" opacity="0.5"/>
<circle cx="63.80" cy="112.49" r="0.38" fill="#666" opacity="0.5"/>
<circle cx="62.90" cy="112.41" r="0.38" fill="#666" opacity="0.5"/>
<circle cx="61.79" cy="117.25" r="0.38" fill="#666" opacity="0.5"/>
<circle cx="61.07" cy="115.44" r="0.38" fill="#666" opacity="0.5"/>
<circle cx="63.15" cy="115.35" r="0.38" fill="#666" opacity="0.5"/>
<circle cx="61.21" cy="117.86" r="0.38" fill="#666" opacity="0.5"/>
<circle cx="63.71" cy="114.57" r="0.38" fill="#666" opacity="0.5"/>
<circle cx="67.44" cy="113.04" r="0.38" fill="#666" opacity="0.5"/>
<circle cx="63.41" cy="114.62" r="0.38" fill="#666" opacity="0.5"/>
<circle cx="61.69" cy="116.37" r="0.38" fill="#666" opacity="0.5"/>
<ellipse cx="44.40" cy="123.60" rx="3.75" ry="1.90" transform="rotate(-40 44.40 123.60)" fill="#999" opacity="0.6" filter="url(#bl2)"/>
<ellipse cx="44.40" cy="123.60" rx="2.25" ry="0.70" transform="rotate(-45 44.40 123.60)" fill="#777" opacity="0.6" filter="url(#bl)"/>
<circle cx="44.89" cy="124.75" r="0.38" fill="#666" opacity="0.5"/>
<circle cx="41.04" cy="120.88" r="0.38" fill="#666" opacity="0.5"/>
<circle cx="45.75" cy="121.87" r="0.38" fill="#666" opacity="0.5"/>
<circle cx="42.14" cy="120.95" r="0.38" fill="#666" opacity="0.5"/>
<circle cx="47.19" cy="124.94" r="0.38" fill="#666" opacity="0.5"/>
<circle cx="47.64" cy="121.91" r="0.38" fill="#666" opacity="0.5"/>
<circle cx="44.40" cy="121.55" r="0.38" fill="#666" opacity="0.5"/>
<circle cx="46.09" cy="126.46" r="0.38" fill="#666" opacity="0.5"/>
<circle cx="42.44" cy="126.41" r="0.38" fill="#666" opacity="0.5"/>
<circle cx="46.57" cy="123.28" r="0.38" fill="#666" opacity="0.5"/>
<circle cx="40.06" cy="126.13" r="0.38" fill="#666" opacity="0.5"/>
<circle cx="44.19" cy="122.51" r="0.38" fill="#666" opacity="0.5"/>
<circle cx="45.28" cy="124.34" r="0.38" fill="#666" opacity="0.5"/>
<circle cx="47.70" cy="121.76" r="0.38" fill="#666" opacity="0.5"/>
<circle cx="46.90" cy="126.28" r="0.38" fill="#666" opacity="0.5"/>
<circle cx="47.59" cy="123.27" r="0.38" fill="#666" opacity="0.5"/>
<ellipse cx="52.90" cy="123.00" rx="3.75" ry="1.90" transform="rotate(-40 52.90 123.00)" fill="#999" opacity="0.6" filter="url(#bl2)"/>
<ellipse cx="52.90" cy="123.00" rx="2.25" ry="0.70" transform="rotate(-45 52.90 123.00)" fill="#777" opacity="0.6" filter="url(#bl)"/>
<circle cx="51.26" cy="124.83" r="0.38" fill="#666" opacity="0.5"/>
<circle cx="53.15" cy="123.22" r="0.38" fill="#666" opacity="0.5"/>
<circle cx="56.03" cy="122.53" r="0.38" fill="#666" opacity="0.5"/>
<circle cx="47.85" cy="122.30" r="0.38" fill="#666" opacity="0.5"/>
<circle cx="48.82" cy="124.47" r="0.38" fill="#666" opacity="0.5"/>
<circle cx="53.60" cy="121.90" r="0.38" fill="#666" opacity="0.5"/>
<circle cx="52.88" cy="124.50" r="0.38" fill="#666" opacity="0.5"/>
<circle cx="53.07" cy="125.39" r="0.38" fill="#666" opacity="0.5"/>
<circle cx="52.77" cy="124.87" r="0.38" fill="#666" opacity="0.5"/>
<circle cx="56.18" cy="125.90" r="0.38" fill="#666" opacity="0.5"/>
<circle cx="51.42" cy="124.58" r="0.38" fill="#666" opacity="0.5"/>
<circle cx="48.77" cy="121.05" r="0.38" fill="#666" opacity="0.5"/>
<circle cx="48.58" cy="124.92" r="0.38" fill="#666" opacity="0.5"/>
<circle cx="50.19" cy="122.98" r="0.38" fill="#666" opacity="0.5"/>
<circle cx="52.48" cy="122.95" r="0.38" fill="#666" opacity="0.5"/>
<circle cx="51.60" cy="123.42" r="0.38" fill="#666" opacity="0.5"/>
<ellipse cx="61.40" cy="124.30" rx="3.75" ry="1.90" transform="rotate(-40 61.40 124.30)" fill="#999" opacity="0.6" filter="url(#bl2)"/>
<ellipse cx="61.40" cy="124.30" rx="2.25" ry="0.70" transform="rotate(-45 61.40 124.30)" fill="#777" opacity="0.6" filter="url(#bl)"/>
<circle cx="65.34" cy="124.38" r="0.38" fill="#666" opacity="0.5"/>
<circle cx="62.57" cy="126.10" r="0.38" fill="#666" opacity="0.5"/>
<circle cx="60.96" cy="122.03" r="0.38" fill="#666" opacity="0.5"/>
<circle cx="60.18" cy="126.23" r="0.38" fill="#666" opacity="0.5"/>
<circle cx="57.78" cy="123.22" r="0.38" fill="#666" opacity="0.5"/>
<circle cx="63.62" cy="125.73" r="0.38" fill="#666" opacity="0.5"/>
<circle cx="61.42" cy="125.75" r="0.38" fill="#666" opacity="0.5"/>
<circle cx="61.77" cy="122.18" r="0.38" fill="#666" opacity="0.5"/>
<circle cx="57.96" cy="123.15" r="0.38" fill="#666" opacity="0.5"/>
<circle cx="63.43" cy="123.28" r="0.38" fill="#666" opacity="0.5"/>
<circle cx="59.41" cy="122.91" r="0.38" fill="#666" opacity="0.5"/>
<circle cx="58.03" cy="124.09" r="0.38" fill="#666" opacity="0.5"/>
<circle cx="58.80" cy="124.96" r="0.38" fill="#666" opacity="0.5"/>
<circle cx="56.21" cy="124.89" r="0.38" fill="#666" opacity="0.5"/>
<circle cx="59.99" cy="120.80" r="0.38" fill="#666" opacity="0.5"/>
<circle cx="62.99" cy="123.80" r="0.38" fill="#666" opacity="0.5"/>
<ellipse cx="51.60" cy="98.10" rx="3.75" ry="1.90" transform="rotate(-40 51.60 98.10)" fill="#999" opacity="0.6" filter="url(#bl2)"/>
<ellipse cx="51.60" cy="98.10" rx="2.25" ry="0.70" transform="rotate(-45 51.60 98.10)" fill="#777" opacity="0.6" filter="url(#bl)"/>
<circle cx="46.69" cy="96.52" r="0.38" fill="#666" opacity="0.5"/>
<circle cx="52.24" cy="97.27" r="0.38" fill="#666" opacity="0.5"/>
<circle cx="53.32" cy="99.45" r="0.38" fill="#666" opacity="0.5"/>
<circle cx="53.07" cy="98.69" r="0.38" fill="#666" opacity="0.5"/>
<circle cx="54.53" cy="99.29" r="0.38" fill="#666" opacity="0.5"/>
<circle cx="52.59" cy="94.35" r="0.38" fill="#666" opacity="0.5"/>
<circle cx="53.57" cy="100.46" r="0.38" fill="#666" opacity="0.5"/>
<circle cx="50.95" cy="97.25" r="0.38" fill="#666" opacity="0.5"/>
<circle cx="55.87" cy="94.94" r="0.38" fill="#666" opacity="0.5"/>
<circle cx="52.63" cy="102.46" r="0.38" fill="#666" opacity="0.5"/>
<circle cx="49.56" cy="99.34" r="0.38" fill="#666" opacity="0.5"/>
<circle cx="55.75" cy="97.88" r="0.38" fill="#666" opacity="0.5"/>
<circle cx="52.83" cy="99.72" r="0.38" fill="#666" opacity="0.5"/>
<circle cx="49.61" cy="97.94" r="0.38" fill="#666" opacity="0.5"/>
<circle cx="52.24" cy="99.59" r="0.38" fill="#666" opacity="0.5"/>
<circle cx="51.52" cy="97.75" r="0.38" fill="#666" opacity="0.5"/>
<ellipse cx="60.10" cy="97.40" rx="3.75" ry="1.90" transform="rotate(-40 60.10 97.40)" fill="#999" opacity="0.6" filter="url(#bl2)"/>
<ellipse cx="60.10" cy="97.40" rx="2.25" ry="0.70" transform="rotate(-45 60.10 97.40)" fill="#777" opacity="0.6" filter="url(#bl)"/>
<circle cx="57.86" cy="96.75" r="0.38" fill="#666" opacity="0.5"/>
<circle cx="62.06" cy="97.58" r="0.38" fill="#666" opacity="0.5"/>
<circle cx="58.22" cy="95.89" r="0.38" fill="#666" opacity="0.5"/>
<circle cx="65.97" cy="99.45" r="0.38" fill="#666" opacity="0.5"/>
<circle cx="61.50" cy="92.73" r="0.38" fill="#666" opacity="0.5"/>
<circle cx="61.47" cy="98.27" r="0.38" fill="#666" opacity="0.5"/>
<circle cx="63.81" cy="98.17" r="0.38" fill="#666" opacity="0.5"/>
<circle cx="59.95" cy="98.34" r="0.38" fill="#666" opacity="0.5"/>
<circle cx="55.82" cy="99.26" r="0.38" fill="#666" opacity="0.5"/>
<circle cx="60.81" cy="96.14" r="0.38" fill="#666" opacity="0.5"/>
<circle cx="63.02" cy="100.66" r="0.38" fill="#666" opacity="0.5"/>
<circle cx="57.01" cy="96.20" r="0.38" fill="#666" opacity="0.5"/>
<circle cx="60.74" cy="97.73" r="0.38" fill="#666" opacity="0.5"/>
<circle cx="59.22" cy="95.65" r="0.38" fill="#666" opacity="0.5"/>
<circle cx="64.77" cy="99.27" r="0.38" fill="#666" opacity="0.5"/>
<circle cx="57.47" cy="94.98" r="0.38" fill="#666" opacity="0.5"/>
<ellipse cx="68.60" cy="124.00" rx="1.50" ry="0.80" transform="rotate(-70 68.60 124.00)" fill="#999" opacity="0.45" filter="url(#bl2)"/>
<circle cx="69.96" cy="125.19" r="0.38" fill="#777" opacity="0.55"/>
<circle cx="70.06" cy="124.97" r="0.38" fill="#777" opacity="0.55"/>
<circle cx="67.90" cy="124.31" r="0.38" fill="#777" opacity="0.55"/>
<circle cx="66.87" cy="123.10" r="0.38" fill="#777" opacity="0.55"/>
<circle cx="68.55" cy="124.63" r="0.38" fill="#777" opacity="0.55"/>
<circle cx="68.02" cy="123.85" r="0.38" fill="#777" opacity="0.55"/>
<ellipse cx="68.60" cy="126.60" rx="1.50" ry="0.80" transform="rotate(-70 68.60 126.60)" fill="#999" opacity="0.45" filter="url(#bl2)"/>
<circle cx="68.97" cy="127.05" r="0.38" fill="#777" opacity="0.55"/>
<circle cx="69.11" cy="126.85" r="0.38" fill="#777" opacity="0.55"/>
<circle cx="68.34" cy="127.55" r="0.38" fill="#777" opacity="0.55"/>
<circle cx="68.64" cy="125.61" r="0.38" fill="#777" opacity="0.55"/>
<circle cx="68.10" cy="126.60" r="0.38" fill="#777" opacity="0.55"/>
<circle cx="68.51" cy="126.79" r="0.38" fill="#777" opacity="0.55"/>
<ellipse cx="68.60" cy="129.20" rx="1.50" ry="0.80" transform="rotate(-70 68.60 129.20)" fill="#999" opacity="0.45" filter="url(#bl2)"/>
<circle cx="68.60" cy="129.41" r="0.38" fill="#777" opacity="0.55"/>
<circle cx="68.49" cy="127.69" r="0.38" fill="#777" opacity="0.55"/>
<circle cx="68.94" cy="130.46" r="0.38" fill="#777" opacity="0.55"/>
<circle cx="68.95" cy="128.97" r="0.38" fill="#777" opacity="0.55"/>
<circle cx="68.96" cy="128.04" r="0.38" fill="#777" opacity="0.55"/>
<circle cx="67.08" cy="129.27" r="0.38" fill="#777" opacity="0.55"/>
<ellipse cx="68.60" cy="131.80" rx="1.50" ry="0.80" transform="rotate(-70 68.60 131.80)" fill="#999" opacity="0.45" filter="url(#bl2)"/>
<circle cx="67.86" cy="132.69" r="0.38" fill="#777" opacity="0.55"/>
<circle cx="67.73" cy="128.65" r="0.38" fill="#777" opacity="0.55"/>
<circle cx="67.77" cy="133.69" r="0.38" fill="#777" opacity="0.55"/>
<circle cx="68.29" cy="130.16" r="0.38" fill="#777" opacity="0.55"/>
<circle cx="67.99" cy="132.43" r="0.38" fill="#777" opacity="0.55"/>
<circle cx="69.00" cy="132.01" r="0.38" fill="#777" opacity="0.55"/>
<ellipse cx="68.60" cy="134.40" rx="1.50" ry="0.80" transform="rotate(-70 68.60 134.40)" fill="#999" opacity="0.45" filter="url(#bl2)"/>
<circle cx="69.79" cy="135.25" r="0.38" fill="#777" opacity="0.55"/>
<circle cx="68.58" cy="135.12" r="0.38" fill="#777" opacity="0.55"/>
<circle cx="69.92" cy="135.57" r="0.38" fill="#777" opacity="0.55"/>
<circle cx="69.42" cy="133.10" r="0.38" fill="#777" opacity="0.55"/>
<circle cx="68.48" cy="135.28" r="0.38" fill="#777" opacity="0.55"/>
<circle cx="68.36" cy="135.68" r="0.38" fill="#777" opacity="0.55"/>
<ellipse cx="68.60" cy="137.00" rx="1.50" ry="0.80" transform="rotate(-70 68.60 137.00)" fill="#999" opacity="0.45" filter="url(#bl2)"/>
<circle cx="69.08" cy="138.09" r="0.38" fill="#777" opacity="0.55"/>
<circle cx="68.43" cy="140.06" r="0.38" fill="#777" opacity="0.55"/>
<circle cx="69.59" cy="136.74" r="0.38" fill="#777" opacity="0.55"/>
<circle cx="68.67" cy="140.11" r="0.38" fill="#777" opacity="0.55"/>
<circle cx="68.33" cy="138.05" r="0.38" fill="#777" opacity="0.55"/>
<circle cx="69.38" cy="137.01" r="0.38" fill="#777" opacity="0.55"/>
<ellipse cx="68.60" cy="139.60" rx="1.50" ry="0.80" transform="rotate(-70 68.60 139.60)" fill="#999" opacity="0.45" filter="url(#bl2)"/>
<circle cx="67.67" cy="139.83" r="0.38" fill="#777" opacity="0.55"/>
<circle cx="68.89" cy="140.96" r="0.38" fill="#777" opacity="0.55"/>
<circle cx="69.23" cy="139.63" r="0.38" fill="#777" opacity="0.55"/>
<circle cx="69.28" cy="140.25" r="0.38" fill="#777" opacity="0.55"/>
<circle cx="68.76" cy="139.67" r="0.38" fill="#777" opacity="0.55"/>
<circle cx="68.41" cy="140.42" r="0.38" fill="#777" opacity="0.55"/>
<circle cx="35.78" cy="97.49" r="0.30" fill="#aaa" opacity="0.4"/>
<circle cx="40.02" cy="94.14" r="0.30" fill="#aaa" opacity="0.4"/>
<circle cx="38.26" cy="91.96" r="0.30" fill="#aaa" opacity="0.4"/>
<circle cx="37.27" cy="102.27" r="0.30" fill="#aaa" opacity="0.4"/>
<circle cx="42.27" cy="99.78" r="0.30" fill="#aaa" opacity="0.4"/>
<circle cx="39.07" cy="94.33" r="0.30" fill="#aaa" opacity="0.4"/>
<circle cx="47.31" cy="102.06" r="0.30" fill="#aaa" opacity="0.4"/>
<circle cx="44.37" cy="96.47" r="0.30" fill="#aaa" opacity="0.4"/>
<circle cx="39.26" cy="92.72" r="0.30" fill="#aaa" opacity="0.4"/>
<circle cx="43.12" cy="103.74" r="0.30" fill="#aaa" opacity="0.4"/>
<circle cx="32.41" cy="99.79" r="0.30" fill="#aaa" opacity="0.4"/>
<circle cx="42.52" cy="92.95" r="0.30" fill="#aaa" opacity="0.4"/>
<circle cx="32.70" cy="95.74" r="0.30" fill="#aaa" opacity="0.4"/>
<circle cx="37.48" cy="94.39" r="0.30" fill="#aaa" opacity="0.4"/>
<circle cx="40.13" cy="101.00" r="0.30" fill="#aaa" opacity="0.4"/>
<circle cx="42.54" cy="102.81" r="0.30" fill="#aaa" opacity="0.4"/>
<circle cx="46.01" cy="104.66" r="0.30" fill="#aaa" opacity="0.4"/>
<circle cx="34.75" cy="97.98" r="0.30" fill="#aaa" opacity="0.4"/>
<circle cx="35.76" cy="95.69" r="0.30" fill="#aaa" opacity="0.4"/>
<circle cx="39.67" cy="100.02" r="0.30" fill="#aaa" opacity="0.4"/>
<circle cx="41.96" cy="93.65" r="0.30" fill="#aaa" opacity="0.4"/>
<circle cx="35.05" cy="99.91" r="0.30" fill="#aaa" opacity="0.4"/>
<circle cx="39.20" cy="98.75" r="0.30" fill="#aaa" opacity="0.4"/>
<circle cx="39.75" cy="96.96" r="0.30" fill="#aaa" opacity="0.4"/>
<circle cx="42.81" cy="101.42" r="0.30" fill="#aaa" opacity="0.4"/>
<circle cx="37.74" cy="110.97" r="0.32" fill="#999" opacity="0.45"/>
<circle cx="37.48" cy="98.67" r="0.32" fill="#999" opacity="0.45"/>
<circle cx="35.06" cy="115.22" r="0.32" fill="#999" opacity="0.45"/>
<circle cx="33.49" cy="116.20" r="0.32" fill="#999" opacity="0.45"/>
<circle cx="38.44" cy="106.73" r="0.32" fill="#999" opacity="0.45"/>
<circle cx="37.25" cy="113.12" r="0.32" fill="#999" opacity="0.45"/>
<circle cx="39.38" cy="118.67" r="0.32" fill="#999" opacity="0.45"/>
<circle cx="37.89" cy="109.89" r="0.32" fill="#999" opacity="0.45"/>
<circle cx="37.57" cy="114.61" r="0.32" fill="#999" opacity="0.45"/>
<circle cx="40.20" cy="116.77" r="0.32" fill="#999" opacity="0.45"/>
<circle cx="35.83" cy="106.87" r="0.32" fill="#999" opacity="0.45"/>
<circle cx="36.88" cy="110.56" r="0.32" fill="#999" opacity="0.45"/>
<circle cx="34.66" cy="114.30" r="0.32" fill="#999" opacity="0.45"/>
<circle cx="36.53" cy="115.63" r="0.32" fill="#999" opacity="0.45"/>
<circle cx="39.57" cy="112.52" r="0.32" fill="#999" opacity="0.45"/>
<circle cx="44.97" cy="113.07" r="0.32" fill="#999" opacity="0.45"/>
<circle cx="41.31" cy="115.73" r="0.32" fill="#999" opacity="0.45"/>
<circle cx="41.35" cy="100.74" r="0.32" fill="#999" opacity="0.45"/>
<circle cx="35.75" cy="116.48" r="0.32" fill="#999" opacity="0.45"/>
<circle cx="39.81" cy="129.02" r="0.32" fill="#999" opacity="0.45"/>
<circle cx="38.97" cy="122.68" r="0.32" fill="#999" opacity="0.45"/>
<circle cx="40.30" cy="120.68" r="0.32" fill="#999" opacity="0.45"/>
<circle cx="39.53" cy="114.06" r="0.32" fill="#999" opacity="0.45"/>
<circle cx="39.53" cy="108.53" r="0.32" fill="#999" opacity="0.45"/>
<circle cx="41.54" cy="108.90" r="0.32" fill="#999" opacity="0.45"/>
<circle cx="38.75" cy="127.72" r="0.32" fill="#999" opacity="0.45"/>
<circle cx="37.33" cy="115.12" r="0.32" fill="#999" opacity="0.45"/>
<circle cx="41.49" cy="115.16" r="0.32" fill="#999" opacity="0.45"/>
<circle cx="35.58" cy="116.55" r="0.32" fill="#999" opacity="0.45"/>
<circle cx="39.75" cy="119.26" r="0.32" fill="#999" opacity="0.45"/>
<rect x="74.10" y="69.40" width="6.60" height="6.60" fill="#fff" stroke="#8c8c8c" stroke-width="0.6" />
<ellipse cx="77.40" cy="72.70" rx="2.80" ry="0.85" transform="rotate(-50 77.40 72.70)" fill="#f02424" opacity="1.0"/>
<rect x="66.20" y="77.30" width="6.10" height="6.20" fill="#fff" stroke="#8c8c8c" stroke-width="0.6" />
<ellipse cx="69.25" cy="80.40" rx="2.59" ry="0.85" transform="rotate(-50 69.25 80.40)" fill="#f02424" opacity="1.0"/>
<rect x="66.20" y="86.20" width="5.70" height="6.00" fill="#fff" stroke="#8c8c8c" stroke-width="0.6" />
<ellipse cx="69.05" cy="89.20" rx="2.42" ry="0.85" transform="rotate(-50 69.05 89.20)" fill="#1e72e6" opacity="1.0"/>
<rect x="66.20" y="95.10" width="5.70" height="6.20" fill="#fff" stroke="#8c8c8c" stroke-width="0.6" />
<ellipse cx="69.05" cy="98.20" rx="2.42" ry="0.85" transform="rotate(-50 69.05 98.20)" fill="#f02424" opacity="1.0"/>
<rect x="73.60" y="96.00" width="6.20" height="6.60" fill="#fff" stroke="#8c8c8c" stroke-width="0.6" />
<ellipse cx="76.70" cy="99.30" rx="2.64" ry="0.85" transform="rotate(-50 76.70 99.30)" fill="#1e72e6" opacity="1.0"/>
<rect x="66.60" y="104.80" width="5.90" height="6.20" fill="#fff" stroke="#8c8c8c" stroke-width="0.6" />
<ellipse cx="69.55" cy="107.90" rx="2.51" ry="0.85" transform="rotate(-50 69.55 107.90)" fill="#f02424" opacity="1.0"/>
<rect x="65.30" y="113.60" width="7.50" height="7.50" fill="#fff" stroke="#8c8c8c" stroke-width="0.6" />
<ellipse cx="69.05" cy="117.35" rx="2.87" ry="1.44" transform="rotate(-60 69.05 117.35)" fill="#a8c8f4" opacity="0.8" filter="url(#bl2)"/>
<circle cx="68.18" cy="119.72" r="0.42" fill="#5a9af0" opacity="0.75"/>
<circle cx="70.93" cy="117.37" r="0.42" fill="#5a9af0" opacity="0.75"/>
<circle cx="69.35" cy="116.77" r="0.42" fill="#5a9af0" opacity="0.75"/>
<circle cx="70.64" cy="116.40" r="0.42" fill="#5a9af0" opacity="0.75"/>
<circle cx="69.81" cy="116.70" r="0.42" fill="#5a9af0" opacity="0.75"/>
<circle cx="68.27" cy="118.32" r="0.42" fill="#5a9af0" opacity="0.75"/>
<circle cx="70.55" cy="117.34" r="0.42" fill="#5a9af0" opacity="0.75"/>
<circle cx="68.29" cy="118.45" r="0.42" fill="#5a9af0" opacity="0.75"/>
<circle cx="68.99" cy="117.77" r="0.42" fill="#5a9af0" opacity="0.75"/>
<circle cx="70.76" cy="118.88" r="0.42" fill="#5a9af0" opacity="0.75"/>
<circle cx="68.47" cy="120.30" r="0.42" fill="#5a9af0" opacity="0.75"/>
<circle cx="69.05" cy="118.41" r="0.42" fill="#5a9af0" opacity="0.75"/>
<circle cx="68.32" cy="117.29" r="0.42" fill="#5a9af0" opacity="0.75"/>
<circle cx="67.08" cy="119.76" r="0.42" fill="#5a9af0" opacity="0.75"/>
<circle cx="70.59" cy="115.71" r="0.42" fill="#5a9af0" opacity="0.75"/>
<circle cx="67.36" cy="115.16" r="0.42" fill="#5a9af0" opacity="0.75"/>
<circle cx="70.37" cy="116.73" r="0.42" fill="#5a9af0" opacity="0.75"/>
<circle cx="68.98" cy="116.93" r="0.42" fill="#5a9af0" opacity="0.75"/>
<circle cx="68.91" cy="115.88" r="0.42" fill="#5a9af0" opacity="0.75"/>
<circle cx="69.08" cy="115.41" r="0.42" fill="#5a9af0" opacity="0.75"/>
<circle cx="68.97" cy="117.77" r="0.42" fill="#5a9af0" opacity="0.75"/>
<circle cx="69.58" cy="117.04" r="0.42" fill="#5a9af0" opacity="0.75"/>
<circle cx="68.03" cy="117.57" r="0.42" fill="#5a9af0" opacity="0.75"/>
<circle cx="68.50" cy="119.46" r="0.42" fill="#5a9af0" opacity="0.75"/>
<circle cx="69.91" cy="117.19" r="0.42" fill="#5a9af0" opacity="0.75"/>
<circle cx="68.52" cy="116.40" r="0.42" fill="#5a9af0" opacity="0.75"/>
<circle cx="68.00" cy="116.87" r="0.42" fill="#5a9af0" opacity="0.75"/>
<circle cx="69.38" cy="118.05" r="0.42" fill="#5a9af0" opacity="0.75"/>
<circle cx="69.69" cy="120.18" r="0.42" fill="#5a9af0" opacity="0.75"/>
<circle cx="68.26" cy="117.37" r="0.42" fill="#5a9af0" opacity="0.75"/>
<rect x="75.00" y="113.20" width="6.10" height="11.80" fill="#fff" stroke="#7a7a7a" stroke-width="0.55" />
<ellipse cx="78.05" cy="119.10" rx="4.50" ry="1.75" transform="rotate(-70 78.05 119.10)" fill="#f8b0b0" opacity="0.7" filter="url(#bl2)"/>
<circle cx="80.30" cy="114.25" r="0.42" fill="#f05a5a" opacity="0.65"/>
<circle cx="77.48" cy="119.54" r="0.42" fill="#f05a5a" opacity="0.65"/>
<circle cx="78.22" cy="120.16" r="0.42" fill="#f05a5a" opacity="0.65"/>
<circle cx="77.79" cy="120.05" r="0.42" fill="#f05a5a" opacity="0.65"/>
<circle cx="78.11" cy="121.11" r="0.42" fill="#f05a5a" opacity="0.65"/>
<circle cx="75.97" cy="116.80" r="0.42" fill="#f05a5a" opacity="0.65"/>
<circle cx="78.05" cy="116.42" r="0.42" fill="#f05a5a" opacity="0.65"/>
<circle cx="76.90" cy="120.73" r="0.42" fill="#f05a5a" opacity="0.65"/>
<circle cx="77.34" cy="120.75" r="0.42" fill="#f05a5a" opacity="0.65"/>
<circle cx="78.87" cy="119.90" r="0.42" fill="#f05a5a" opacity="0.65"/>
<circle cx="78.61" cy="118.83" r="0.42" fill="#f05a5a" opacity="0.65"/>
<circle cx="76.50" cy="119.02" r="0.42" fill="#f05a5a" opacity="0.65"/>
<circle cx="78.55" cy="117.72" r="0.42" fill="#f05a5a" opacity="0.65"/>
<circle cx="77.94" cy="121.05" r="0.42" fill="#f05a5a" opacity="0.65"/>
<circle cx="77.08" cy="120.76" r="0.42" fill="#f05a5a" opacity="0.65"/>
<circle cx="80.10" cy="117.66" r="0.42" fill="#f05a5a" opacity="0.65"/>
<circle cx="78.21" cy="118.71" r="0.42" fill="#f05a5a" opacity="0.65"/>
<circle cx="79.74" cy="119.92" r="0.42" fill="#f05a5a" opacity="0.65"/>
<circle cx="79.04" cy="117.31" r="0.42" fill="#f05a5a" opacity="0.65"/>
<circle cx="78.03" cy="119.07" r="0.42" fill="#f05a5a" opacity="0.65"/>
<circle cx="76.10" cy="122.85" r="0.42" fill="#f05a5a" opacity="0.65"/>
<circle cx="79.04" cy="114.55" r="0.42" fill="#f05a5a" opacity="0.65"/>
<circle cx="78.87" cy="118.76" r="0.42" fill="#f05a5a" opacity="0.65"/>
<circle cx="78.54" cy="120.05" r="0.42" fill="#f05a5a" opacity="0.65"/>
<circle cx="76.40" cy="118.55" r="0.42" fill="#f05a5a" opacity="0.65"/>
<circle cx="79.69" cy="117.61" r="0.42" fill="#f05a5a" opacity="0.65"/>
<circle cx="76.92" cy="115.57" r="0.42" fill="#f05a5a" opacity="0.65"/>
<circle cx="76.71" cy="119.97" r="0.42" fill="#f05a5a" opacity="0.65"/>
<circle cx="79.91" cy="120.22" r="0.42" fill="#f05a5a" opacity="0.65"/>
<circle cx="78.32" cy="124.20" r="0.42" fill="#f05a5a" opacity="0.65"/>
<circle cx="77.48" cy="117.35" r="0.42" fill="#f05a5a" opacity="0.65"/>
<circle cx="78.63" cy="120.53" r="0.42" fill="#f05a5a" opacity="0.65"/>
<circle cx="76.93" cy="116.06" r="0.42" fill="#f05a5a" opacity="0.65"/>
<circle cx="78.37" cy="119.74" r="0.42" fill="#f05a5a" opacity="0.65"/>
<circle cx="76.61" cy="118.57" r="0.42" fill="#f05a5a" opacity="0.65"/>
<circle cx="77.45" cy="120.30" r="0.42" fill="#f05a5a" opacity="0.65"/>
<circle cx="77.92" cy="118.88" r="0.42" fill="#f05a5a" opacity="0.65"/>
<circle cx="77.66" cy="121.84" r="0.42" fill="#f05a5a" opacity="0.65"/>
<circle cx="79.58" cy="118.15" r="0.42" fill="#f05a5a" opacity="0.65"/>
<circle cx="78.98" cy="117.13" r="0.42" fill="#f05a5a" opacity="0.65"/>
<ellipse cx="89.90" cy="64.10" rx="4.50" ry="1.70" transform="rotate(-45 89.90 64.10)" fill="#fbdcdc" stroke="#999" stroke-width="0.5"/>
<ellipse cx="89.90" cy="64.10" rx="3.15" ry="0.90" transform="rotate(-45 89.90 64.10)" fill="#f02424" opacity="1.0"/>
<ellipse cx="91.80" cy="91.40" rx="5.25" ry="2.00" transform="rotate(-40 91.80 91.40)" fill="#fbdcdc" stroke="#999" stroke-width="0.5"/>
<ellipse cx="91.80" cy="91.40" rx="3.94" ry="1.15" transform="rotate(-40 91.80 91.40)" fill="#f02424" opacity="1.0"/>
<ellipse cx="91.25" cy="104.50" rx="4.25" ry="1.80" transform="rotate(-52 91.25 104.50)" fill="#fbd0d0" stroke="#999" stroke-width="0.5"/>
<ellipse cx="91.25" cy="104.50" rx="2.55" ry="0.95" transform="rotate(-52 91.25 104.50)" fill="#f02424" opacity="1.0"/>
<ellipse cx="84.60" cy="111.40" rx="5.50" ry="2.10" transform="rotate(-58 84.60 111.40)" fill="#fde6e6" stroke="#999" stroke-width="0.5"/>
<ellipse cx="84.60" cy="111.40" rx="3.85" ry="1.00" transform="rotate(-58 84.60 111.40)" fill="#f47070" opacity="0.8"/>
<text x="92.60" y="58.95" font-size="3.0" font-weight="normal" text-anchor="middle" fill="#000" >CD69</text>
<text x="73.20" y="67.75" font-size="3.0" font-weight="normal" text-anchor="middle" fill="#000" >CD42b</text>
<text x="61.80" y="76.55" font-size="3.0" font-weight="normal" text-anchor="middle" fill="#000" >CD40</text>
<text x="100.50" y="92.05" font-size="3.0" font-weight="normal" text-anchor="middle" fill="#000" >CD41b</text>
<text x="98.50" y="108.25" font-size="3.0" font-weight="normal" text-anchor="middle" fill="#000" >CD29</text>
<text x="91.00" y="116.85" font-size="3.0" font-weight="normal" text-anchor="middle" fill="#000" >CD42a</text>
<text x="86.00" y="125.35" font-size="3.0" font-weight="normal" text-anchor="middle" fill="#000" >CD62P</text>
<text x="62.70" y="131.85" font-size="3.0" font-weight="normal" text-anchor="middle" fill="#000" >CD4</text>
<text x="56.80" y="103.05" font-size="3.0" font-weight="normal" text-anchor="middle" fill="#000" >HLA-ABC</text>
<text x="58.10" y="112.85" font-size="3.0" font-weight="normal" text-anchor="middle" fill="#000" >SSEA-4</text>
<text x="81.70" y="97.05" font-size="3.0" font-weight="normal" text-anchor="middle" fill="#000" >CD31</text>
<text x="60.20" y="94.05" font-size="3.0" font-weight="normal" text-anchor="middle" fill="#000" >CD3</text>
<rect x="135.80" y="236.10" width="84.30" height="83.50" fill="none" stroke="#b0b0b0" stroke-width="0.7" />
<line x1="135.80" y1="236.10" x2="135.80" y2="319.60" stroke="#8a8a8a" stroke-width="0.6" />
<line x1="135.80" y1="319.60" x2="220.10" y2="319.60" stroke="#8a8a8a" stroke-width="0.6" />
<text x="136.40" y="231.10" font-size="7.0" font-weight="bold" text-anchor="start" fill="#000" letter-spacing="0.0" stroke="#000" stroke-width="0.2">Spots of B7-H3<tspan font-size="4.2" dy="-2.6">Bright</tspan><tspan dy="2.6"> EVs</tspan></text>
<line x1="148.02" y1="319.60" x2="148.02" y2="320.90" stroke="#666" stroke-width="0.5" />
<text transform="translate(148.92,321.60) rotate(-45)" font-size="3.1" text-anchor="end" fill="#333">10<tspan font-size="2.1" dy="-1.0">2</tspan></text>
<line x1="134.50" y1="246.29" x2="135.80" y2="246.29" stroke="#666" stroke-width="0.5" />
<text transform="translate(134.20,246.89) rotate(-45)" font-size="3.1" text-anchor="end" fill="#333">10<tspan font-size="2.1" dy="-1.0">5</tspan></text>
<line x1="169.10" y1="319.60" x2="169.10" y2="320.90" stroke="#666" stroke-width="0.5" />
<text transform="translate(170.00,321.60) rotate(-45)" font-size="3.1" text-anchor="end" fill="#333">10<tspan font-size="2.1" dy="-1.0">3</tspan></text>
<line x1="134.50" y1="264.99" x2="135.80" y2="264.99" stroke="#666" stroke-width="0.5" />
<text transform="translate(134.20,265.59) rotate(-45)" font-size="3.1" text-anchor="end" fill="#333">10<tspan font-size="2.1" dy="-1.0">4</tspan></text>
<line x1="190.26" y1="319.60" x2="190.26" y2="320.90" stroke="#666" stroke-width="0.5" />
<text transform="translate(191.16,321.60) rotate(-45)" font-size="3.1" text-anchor="end" fill="#333">10<tspan font-size="2.1" dy="-1.0">4</tspan></text>
<line x1="134.50" y1="286.87" x2="135.80" y2="286.87" stroke="#666" stroke-width="0.5" />
<text transform="translate(134.20,287.47) rotate(-45)" font-size="3.1" text-anchor="end" fill="#333">10<tspan font-size="2.1" dy="-1.0">3</tspan></text>
<line x1="211.33" y1="319.60" x2="211.33" y2="320.90" stroke="#666" stroke-width="0.5" />
<text transform="translate(212.23,321.60) rotate(-45)" font-size="3.1" text-anchor="end" fill="#333">10<tspan font-size="2.1" dy="-1.0">5</tspan></text>
<line x1="134.50" y1="307.16" x2="135.80" y2="307.16" stroke="#666" stroke-width="0.5" />
<text transform="translate(134.20,307.76) rotate(-45)" font-size="3.1" text-anchor="end" fill="#333">10<tspan font-size="2.1" dy="-1.0">2</tspan></text>
<line x1="135.80" y1="320.20" x2="220.10" y2="320.20" stroke="#999" stroke-width="0.6" stroke-dasharray="0.5 1.8"/>
<line x1="135.20" y1="236.10" x2="135.20" y2="319.60" stroke="#999" stroke-width="0.6" stroke-dasharray="0.5 1.8"/>
<text x="179.90" y="330.70" font-size="4.85" font-weight="normal" text-anchor="middle" fill="#000" stroke="#000" stroke-width="0.12">ExoCaptBeads FITC-A</text>
<text transform="translate(129.10,273.80) rotate(-90)" font-size="4.7" text-anchor="middle" fill="#000" stroke="#000" stroke-width="0.12">ExoCaptBeads PE-A</text>
<ellipse cx="180.50" cy="251.60" rx="2.40" ry="0.57" transform="rotate(-48 180.50 251.60)" fill="#6a6a6a" opacity="0.72" filter="url(#bl)"/>
<ellipse cx="191.50" cy="250.30" rx="2.40" ry="0.57" transform="rotate(-48 191.50 250.30)" fill="#6a6a6a" opacity="0.72" filter="url(#bl)"/>
<ellipse cx="181.20" cy="257.10" rx="2.40" ry="0.57" transform="rotate(-48 181.20 257.10)" fill="#6a6a6a" opacity="0.72" filter="url(#bl)"/>
<ellipse cx="186.70" cy="257.80" rx="2.40" ry="0.57" transform="rotate(-48 186.70 257.80)" fill="#6a6a6a" opacity="0.72" filter="url(#bl)"/>
<ellipse cx="192.80" cy="256.40" rx="2.40" ry="0.57" transform="rotate(-48 192.80 256.40)" fill="#6a6a6a" opacity="0.72" filter="url(#bl)"/>
<ellipse cx="175.00" cy="263.90" rx="2.40" ry="0.57" transform="rotate(-48 175.00 263.90)" fill="#6a6a6a" opacity="0.72" filter="url(#bl)"/>
<ellipse cx="180.50" cy="264.60" rx="2.40" ry="0.57" transform="rotate(-48 180.50 264.60)" fill="#6a6a6a" opacity="0.72" filter="url(#bl)"/>
<ellipse cx="186.70" cy="265.30" rx="2.40" ry="0.57" transform="rotate(-48 186.70 265.30)" fill="#6a6a6a" opacity="0.72" filter="url(#bl)"/>
<ellipse cx="192.80" cy="264.60" rx="2.40" ry="0.57" transform="rotate(-48 192.80 264.60)" fill="#6a6a6a" opacity="0.72" filter="url(#bl)"/>
<ellipse cx="175.00" cy="272.10" rx="2.40" ry="0.57" transform="rotate(-48 175.00 272.10)" fill="#6a6a6a" opacity="0.72" filter="url(#bl)"/>
<ellipse cx="181.20" cy="272.10" rx="2.40" ry="0.57" transform="rotate(-48 181.20 272.10)" fill="#6a6a6a" opacity="0.72" filter="url(#bl)"/>
<ellipse cx="193.50" cy="272.10" rx="2.40" ry="0.57" transform="rotate(-48 193.50 272.10)" fill="#6a6a6a" opacity="0.72" filter="url(#bl)"/>
<ellipse cx="181.90" cy="279.70" rx="2.40" ry="0.57" transform="rotate(-48 181.90 279.70)" fill="#6a6a6a" opacity="0.72" filter="url(#bl)"/>
<ellipse cx="187.40" cy="279.70" rx="2.40" ry="0.57" transform="rotate(-48 187.40 279.70)" fill="#6a6a6a" opacity="0.72" filter="url(#bl)"/>
<ellipse cx="192.80" cy="276.90" rx="2.40" ry="0.57" transform="rotate(-48 192.80 276.90)" fill="#6a6a6a" opacity="0.72" filter="url(#bl)"/>
<ellipse cx="175.70" cy="283.80" rx="2.40" ry="0.57" transform="rotate(-48 175.70 283.80)" fill="#6a6a6a" opacity="0.72" filter="url(#bl)"/>
<ellipse cx="170.30" cy="285.10" rx="2.40" ry="0.57" transform="rotate(-48 170.30 285.10)" fill="#6a6a6a" opacity="0.72" filter="url(#bl)"/>
<ellipse cx="163.40" cy="285.10" rx="2.40" ry="0.57" transform="rotate(-48 163.40 285.10)" fill="#6a6a6a" opacity="0.72" filter="url(#bl)"/>
<ellipse cx="176.50" cy="277.50" rx="2.40" ry="0.57" transform="rotate(-48 176.50 277.50)" fill="#6a6a6a" opacity="0.72" filter="url(#bl)"/>
<ellipse cx="196.00" cy="270.00" rx="2.40" ry="0.57" transform="rotate(-48 196.00 270.00)" fill="#6a6a6a" opacity="0.72" filter="url(#bl)"/>
<ellipse cx="162.90" cy="270.80" rx="2.75" ry="1.30" transform="rotate(-40 162.90 270.80)" fill="#aaa" opacity="0.45" filter="url(#bl2)"/>
<ellipse cx="162.90" cy="270.80" rx="2.00" ry="0.55" transform="rotate(-48 162.90 270.80)" fill="#777" opacity="0.7" filter="url(#bl)"/>
<circle cx="163.02" cy="271.85" r="0.33" fill="#777" opacity="0.45"/>
<circle cx="165.32" cy="270.26" r="0.33" fill="#777" opacity="0.45"/>
<circle cx="162.78" cy="271.07" r="0.33" fill="#777" opacity="0.45"/>
<circle cx="160.50" cy="270.82" r="0.33" fill="#777" opacity="0.45"/>
<circle cx="161.82" cy="271.32" r="0.33" fill="#777" opacity="0.45"/>
<circle cx="161.09" cy="268.03" r="0.33" fill="#777" opacity="0.45"/>
<circle cx="162.96" cy="271.16" r="0.33" fill="#777" opacity="0.45"/>
<circle cx="162.02" cy="272.04" r="0.33" fill="#777" opacity="0.45"/>
<ellipse cx="155.90" cy="277.70" rx="2.75" ry="1.30" transform="rotate(-40 155.90 277.70)" fill="#aaa" opacity="0.45" filter="url(#bl2)"/>
<ellipse cx="155.90" cy="277.70" rx="2.00" ry="0.55" transform="rotate(-48 155.90 277.70)" fill="#777" opacity="0.7" filter="url(#bl)"/>
<circle cx="155.46" cy="276.85" r="0.33" fill="#777" opacity="0.45"/>
<circle cx="156.66" cy="275.50" r="0.33" fill="#777" opacity="0.45"/>
<circle cx="154.82" cy="277.67" r="0.33" fill="#777" opacity="0.45"/>
<circle cx="157.26" cy="277.47" r="0.33" fill="#777" opacity="0.45"/>
<circle cx="156.39" cy="276.78" r="0.33" fill="#777" opacity="0.45"/>
<circle cx="156.38" cy="280.03" r="0.33" fill="#777" opacity="0.45"/>
<circle cx="154.80" cy="281.01" r="0.33" fill="#777" opacity="0.45"/>
<circle cx="154.87" cy="277.72" r="0.33" fill="#777" opacity="0.45"/>
<ellipse cx="163.40" cy="278.30" rx="2.75" ry="1.30" transform="rotate(-40 163.40 278.30)" fill="#aaa" opacity="0.45" filter="url(#bl2)"/>
<ellipse cx="163.40" cy="278.30" rx="2.00" ry="0.55" transform="rotate(-48 163.40 278.30)" fill="#777" opacity="0.7" filter="url(#bl)"/>
<circle cx="163.68" cy="279.73" r="0.33" fill="#777" opacity="0.45"/>
<circle cx="161.42" cy="275.36" r="0.33" fill="#777" opacity="0.45"/>
<circle cx="164.37" cy="279.41" r="0.33" fill="#777" opacity="0.45"/>
<circle cx="164.40" cy="281.98" r="0.33" fill="#777" opacity="0.45"/>
<circle cx="163.73" cy="278.66" r="0.33" fill="#777" opacity="0.45"/>
<circle cx="164.89" cy="278.82" r="0.33" fill="#777" opacity="0.45"/>
<circle cx="166.06" cy="276.57" r="0.33" fill="#777" opacity="0.45"/>
<circle cx="162.80" cy="273.48" r="0.33" fill="#777" opacity="0.45"/>
<ellipse cx="148.90" cy="285.30" rx="2.75" ry="1.30" transform="rotate(-40 148.90 285.30)" fill="#aaa" opacity="0.45" filter="url(#bl2)"/>
<ellipse cx="148.90" cy="285.30" rx="2.00" ry="0.40" transform="rotate(-48 148.90 285.30)" fill="#777" opacity="0.45" filter="url(#bl)"/>
<circle cx="150.20" cy="284.78" r="0.33" fill="#777" opacity="0.45"/>
<circle cx="150.38" cy="288.32" r="0.33" fill="#777" opacity="0.45"/>
<circle cx="148.89" cy="284.94" r="0.33" fill="#777" opacity="0.45"/>
<circle cx="148.10" cy="284.13" r="0.33" fill="#777" opacity="0.45"/>
<circle cx="147.89" cy="286.19" r="0.33" fill="#777" opacity="0.45"/>
<circle cx="148.96" cy="285.39" r="0.33" fill="#777" opacity="0.45"/>
<circle cx="148.62" cy="286.58" r="0.33" fill="#777" opacity="0.45"/>
<circle cx="149.69" cy="285.10" r="0.33" fill="#777" opacity="0.45"/>
<ellipse cx="155.90" cy="285.30" rx="2.75" ry="1.30" transform="rotate(-40 155.90 285.30)" fill="#aaa" opacity="0.45" filter="url(#bl2)"/>
<ellipse cx="155.90" cy="285.30" rx="2.00" ry="0.55" transform="rotate(-48 155.90 285.30)" fill="#777" opacity="0.7" filter="url(#bl)"/>
<circle cx="156.96" cy="285.09" r="0.33" fill="#777" opacity="0.45"/>
<circle cx="154.06" cy="287.34" r="0.33" fill="#777" opacity="0.45"/>
<circle cx="156.64" cy="283.96" r="0.33" fill="#777" opacity="0.45"/>
<circle cx="157.63" cy="285.78" r="0.33" fill="#777" opacity="0.45"/>
<circle cx="153.40" cy="287.55" r="0.33" fill="#777" opacity="0.45"/>
<circle cx="156.43" cy="286.55" r="0.33" fill="#777" opacity="0.45"/>
<circle cx="156.22" cy="285.09" r="0.33" fill="#777" opacity="0.45"/>
<circle cx="153.42" cy="286.66" r="0.33" fill="#777" opacity="0.45"/>
<ellipse cx="163.40" cy="285.30" rx="2.75" ry="1.30" transform="rotate(-40 163.40 285.30)" fill="#aaa" opacity="0.45" filter="url(#bl2)"/>
<ellipse cx="163.40" cy="285.30" rx="2.00" ry="0.55" transform="rotate(-48 163.40 285.30)" fill="#777" opacity="0.7" filter="url(#bl)"/>
<circle cx="163.45" cy="284.90" r="0.33" fill="#777" opacity="0.45"/>
<circle cx="163.96" cy="285.41" r="0.33" fill="#777" opacity="0.45"/>
<circle cx="164.48" cy="284.78" r="0.33" fill="#777" opacity="0.45"/>
<circle cx="163.34" cy="282.31" r="0.33" fill="#777" opacity="0.45"/>
<circle cx="162.72" cy="286.25" r="0.33" fill="#777" opacity="0.45"/>
<circle cx="165.54" cy="284.79" r="0.33" fill="#777" opacity="0.45"/>
<circle cx="163.21" cy="287.52" r="0.33" fill="#777" opacity="0.45"/>
<circle cx="162.88" cy="286.33" r="0.33" fill="#777" opacity="0.45"/>
<ellipse cx="169.90" cy="285.30" rx="2.75" ry="1.30" transform="rotate(-40 169.90 285.30)" fill="#aaa" opacity="0.45" filter="url(#bl2)"/>
<ellipse cx="169.90" cy="285.30" rx="2.00" ry="0.55" transform="rotate(-48 169.90 285.30)" fill="#777" opacity="0.7" filter="url(#bl)"/>
<circle cx="172.59" cy="285.36" r="0.33" fill="#777" opacity="0.45"/>
<circle cx="171.86" cy="284.31" r="0.33" fill="#777" opacity="0.45"/>
<circle cx="170.23" cy="285.19" r="0.33" fill="#777" opacity="0.45"/>
<circle cx="170.08" cy="286.88" r="0.33" fill="#777" opacity="0.45"/>
<circle cx="173.72" cy="284.37" r="0.33" fill="#777" opacity="0.45"/>
<circle cx="168.98" cy="286.00" r="0.33" fill="#777" opacity="0.45"/>
<circle cx="168.21" cy="286.00" r="0.33" fill="#777" opacity="0.45"/>
<circle cx="170.82" cy="284.91" r="0.33" fill="#777" opacity="0.45"/>
<ellipse cx="150.00" cy="291.70" rx="2.75" ry="1.30" transform="rotate(-40 150.00 291.70)" fill="#aaa" opacity="0.45" filter="url(#bl2)"/>
<ellipse cx="150.00" cy="291.70" rx="2.00" ry="0.40" transform="rotate(-48 150.00 291.70)" fill="#777" opacity="0.45" filter="url(#bl)"/>
<circle cx="150.85" cy="289.53" r="0.33" fill="#777" opacity="0.45"/>
<circle cx="151.22" cy="289.54" r="0.33" fill="#777" opacity="0.45"/>
<circle cx="148.89" cy="290.92" r="0.33" fill="#777" opacity="0.45"/>
<circle cx="149.36" cy="292.90" r="0.33" fill="#777" opacity="0.45"/>
<circle cx="150.13" cy="291.14" r="0.33" fill="#777" opacity="0.45"/>
<circle cx="150.87" cy="293.91" r="0.33" fill="#777" opacity="0.45"/>
<circle cx="150.01" cy="292.21" r="0.33" fill="#777" opacity="0.45"/>
<circle cx="151.98" cy="292.07" r="0.33" fill="#777" opacity="0.45"/>
<ellipse cx="156.40" cy="291.70" rx="2.75" ry="1.30" transform="rotate(-40 156.40 291.70)" fill="#aaa" opacity="0.45" filter="url(#bl2)"/>
<ellipse cx="156.40" cy="291.70" rx="2.00" ry="0.40" transform="rotate(-48 156.40 291.70)" fill="#777" opacity="0.45" filter="url(#bl)"/>
<circle cx="154.35" cy="295.19" r="0.33" fill="#777" opacity="0.45"/>
<circle cx="159.93" cy="288.92" r="0.33" fill="#777" opacity="0.45"/>
<circle cx="156.34" cy="292.28" r="0.33" fill="#777" opacity="0.45"/>
<circle cx="157.95" cy="292.64" r="0.33" fill="#777" opacity="0.45"/>
<circle cx="155.96" cy="290.22" r="0.33" fill="#777" opacity="0.45"/>
<circle cx="156.56" cy="293.15" r="0.33" fill="#777" opacity="0.45"/>
<circle cx="154.66" cy="290.26" r="0.33" fill="#777" opacity="0.45"/>
<circle cx="156.36" cy="288.99" r="0.33" fill="#777" opacity="0.45"/>
<ellipse cx="164.00" cy="291.70" rx="2.75" ry="1.30" transform="rotate(-40 164.00 291.70)" fill="#aaa" opacity="0.45" filter="url(#bl2)"/>
<ellipse cx="164.00" cy="291.70" rx="2.00" ry="0.40" transform="rotate(-48 164.00 291.70)" fill="#777" opacity="0.45" filter="url(#bl)"/>
<circle cx="163.58" cy="291.09" r="0.33" fill="#777" opacity="0.45"/>
<circle cx="164.72" cy="290.72" r="0.33" fill="#777" opacity="0.45"/>
<circle cx="162.59" cy="291.15" r="0.33" fill="#777" opacity="0.45"/>
<circle cx="163.92" cy="290.77" r="0.33" fill="#777" opacity="0.45"/>
<circle cx="164.02" cy="292.75" r="0.33" fill="#777" opacity="0.45"/>
<circle cx="165.90" cy="294.09" r="0.33" fill="#777" opacity="0.45"/>
<circle cx="162.75" cy="291.11" r="0.33" fill="#777" opacity="0.45"/>
<circle cx="160.03" cy="294.36" r="0.33" fill="#777" opacity="0.45"/>
<ellipse cx="150.50" cy="297.60" rx="2.75" ry="1.30" transform="rotate(-40 150.50 297.60)" fill="#aaa" opacity="0.45" filter="url(#bl2)"/>
<ellipse cx="150.50" cy="297.60" rx="2.00" ry="0.40" transform="rotate(-48 150.50 297.60)" fill="#777" opacity="0.45" filter="url(#bl)"/>
<circle cx="149.34" cy="297.55" r="0.33" fill="#777" opacity="0.45"/>
<circle cx="151.34" cy="295.70" r="0.33" fill="#777" opacity="0.45"/>
<circle cx="151.24" cy="297.56" r="0.33" fill="#777" opacity="0.45"/>
<circle cx="147.58" cy="298.01" r="0.33" fill="#777" opacity="0.45"/>
<circle cx="152.41" cy="294.99" r="0.33" fill="#777" opacity="0.45"/>
<circle cx="151.79" cy="297.89" r="0.33" fill="#777" opacity="0.45"/>
<circle cx="151.26" cy="298.22" r="0.33" fill="#777" opacity="0.45"/>
<circle cx="152.59" cy="297.29" r="0.33" fill="#777" opacity="0.45"/>
<ellipse cx="157.50" cy="297.60" rx="2.75" ry="1.30" transform="rotate(-40 157.50 297.60)" fill="#aaa" opacity="0.45" filter="url(#bl2)"/>
<ellipse cx="157.50" cy="297.60" rx="2.00" ry="0.40" transform="rotate(-48 157.50 297.60)" fill="#777" opacity="0.45" filter="url(#bl)"/>
<circle cx="158.90" cy="297.03" r="0.33" fill="#777" opacity="0.45"/>
<circle cx="158.66" cy="296.46" r="0.33" fill="#777" opacity="0.45"/>
<circle cx="157.33" cy="300.02" r="0.33" fill="#777" opacity="0.45"/>
<circle cx="158.21" cy="297.38" r="0.33" fill="#777" opacity="0.45"/>
<circle cx="155.67" cy="296.49" r="0.33" fill="#777" opacity="0.45"/>
<circle cx="157.81" cy="298.92" r="0.33" fill="#777" opacity="0.45"/>
<circle cx="158.18" cy="298.33" r="0.33" fill="#777" opacity="0.45"/>
<circle cx="157.43" cy="299.49" r="0.33" fill="#777" opacity="0.45"/>
<ellipse cx="164.50" cy="297.60" rx="2.75" ry="1.30" transform="rotate(-40 164.50 297.60)" fill="#aaa" opacity="0.45" filter="url(#bl2)"/>
<ellipse cx="164.50" cy="297.60" rx="2.00" ry="0.40" transform="rotate(-48 164.50 297.60)" fill="#777" opacity="0.45" filter="url(#bl)"/>
<circle cx="163.87" cy="296.83" r="0.33" fill="#777" opacity="0.45"/>
<circle cx="165.92" cy="297.69" r="0.33" fill="#777" opacity="0.45"/>
<circle cx="164.05" cy="296.79" r="0.33" fill="#777" opacity="0.45"/>
<circle cx="164.09" cy="298.47" r="0.33" fill="#777" opacity="0.45"/>
<circle cx="165.07" cy="295.91" r="0.33" fill="#777" opacity="0.45"/>
<circle cx="165.18" cy="297.85" r="0.33" fill="#777" opacity="0.45"/>
<circle cx="162.90" cy="298.68" r="0.33" fill="#777" opacity="0.45"/>
<circle cx="164.05" cy="297.13" r="0.33" fill="#777" opacity="0.45"/>
<ellipse cx="170.40" cy="296.00" rx="1.25" ry="0.65" transform="rotate(-70 170.40 296.00)" fill="#aaa" opacity="0.45" filter="url(#bl2)"/>
<circle cx="170.88" cy="297.19" r="0.33" fill="#888" opacity="0.5"/>
<circle cx="169.99" cy="296.39" r="0.33" fill="#888" opacity="0.5"/>
<circle cx="169.87" cy="298.08" r="0.33" fill="#888" opacity="0.5"/>
<circle cx="170.10" cy="297.08" r="0.33" fill="#888" opacity="0.5"/>
<ellipse cx="170.40" cy="298.20" rx="1.25" ry="0.65" transform="rotate(-70 170.40 298.20)" fill="#aaa" opacity="0.45" filter="url(#bl2)"/>
<circle cx="170.01" cy="298.93" r="0.33" fill="#888" opacity="0.5"/>
<circle cx="171.73" cy="295.91" r="0.33" fill="#888" opacity="0.5"/>
<circle cx="170.14" cy="298.65" r="0.33" fill="#888" opacity="0.5"/>
<circle cx="170.34" cy="297.60" r="0.33" fill="#888" opacity="0.5"/>
<ellipse cx="170.40" cy="300.40" rx="1.25" ry="0.65" transform="rotate(-70 170.40 300.40)" fill="#aaa" opacity="0.45" filter="url(#bl2)"/>
<circle cx="171.69" cy="300.47" r="0.33" fill="#888" opacity="0.5"/>
<circle cx="169.41" cy="301.17" r="0.33" fill="#888" opacity="0.5"/>
<circle cx="169.37" cy="301.44" r="0.33" fill="#888" opacity="0.5"/>
<circle cx="170.05" cy="300.53" r="0.33" fill="#888" opacity="0.5"/>
<ellipse cx="170.40" cy="302.60" rx="1.25" ry="0.65" transform="rotate(-70 170.40 302.60)" fill="#aaa" opacity="0.45" filter="url(#bl2)"/>
<circle cx="171.16" cy="302.71" r="0.33" fill="#888" opacity="0.5"/>
<circle cx="169.57" cy="301.07" r="0.33" fill="#888" opacity="0.5"/>
<circle cx="171.11" cy="303.27" r="0.33" fill="#888" opacity="0.5"/>
<circle cx="169.91" cy="303.37" r="0.33" fill="#888" opacity="0.5"/>
<ellipse cx="170.40" cy="304.80" rx="1.25" ry="0.65" transform="rotate(-70 170.40 304.80)" fill="#aaa" opacity="0.45" filter="url(#bl2)"/>
<circle cx="170.70" cy="305.38" r="0.33" fill="#888" opacity="0.5"/>
<circle cx="169.04" cy="304.53" r="0.33" fill="#888" opacity="0.5"/>
<circle cx="170.94" cy="305.46" r="0.33" fill="#888" opacity="0.5"/>
<circle cx="170.93" cy="302.59" r="0.33" fill="#888" opacity="0.5"/>
<circle cx="143.42" cy="292.46" r="0.30" fill="#aaa" opacity="0.4"/>
<circle cx="149.38" cy="285.23" r="0.30" fill="#aaa" opacity="0.4"/>
<circle cx="142.18" cy="290.18" r="0.30" fill="#aaa" opacity="0.4"/>
<circle cx="145.22" cy="287.78" r="0.30" fill="#aaa" opacity="0.4"/>
<circle cx="145.87" cy="286.06" r="0.30" fill="#aaa" opacity="0.4"/>
<circle cx="143.67" cy="287.36" r="0.30" fill="#aaa" opacity="0.4"/>
<circle cx="143.40" cy="286.55" r="0.30" fill="#aaa" opacity="0.4"/>
<circle cx="139.01" cy="295.47" r="0.30" fill="#aaa" opacity="0.4"/>
<circle cx="143.76" cy="287.21" r="0.30" fill="#aaa" opacity="0.4"/>
<circle cx="143.50" cy="294.95" r="0.30" fill="#aaa" opacity="0.4"/>
<circle cx="140.56" cy="289.45" r="0.30" fill="#aaa" opacity="0.4"/>
<circle cx="144.35" cy="292.63" r="0.30" fill="#aaa" opacity="0.4"/>
<circle cx="142.16" cy="279.47" r="0.30" fill="#aaa" opacity="0.4"/>
<circle cx="146.11" cy="291.64" r="0.30" fill="#aaa" opacity="0.4"/>
<rect x="173.00" y="254.40" width="5.50" height="5.40" fill="#fff" stroke="#8c8c8c" stroke-width="0.6" />
<ellipse cx="175.75" cy="257.10" rx="2.30" ry="0.75" transform="rotate(-50 175.75 257.10)" fill="#f02424" opacity="1.0"/>
<rect x="166.80" y="261.20" width="5.50" height="5.50" fill="#fff" stroke="#8c8c8c" stroke-width="0.6" />
<ellipse cx="169.55" cy="263.95" rx="2.34" ry="0.75" transform="rotate(-50 169.55 263.95)" fill="#f02424" opacity="1.0"/>
<rect x="166.80" y="268.00" width="5.50" height="5.50" fill="#fff" stroke="#8c8c8c" stroke-width="0.6" />
<ellipse cx="169.55" cy="270.75" rx="2.34" ry="0.60" transform="rotate(-50 169.55 270.75)" fill="#888" opacity="1.0"/>
<rect x="167.50" y="275.60" width="4.80" height="5.40" fill="#fff" stroke="#8c8c8c" stroke-width="0.6" />
<ellipse cx="169.90" cy="278.30" rx="2.04" ry="0.75" transform="rotate(-50 169.90 278.30)" fill="#f02424" opacity="1.0"/>
<rect x="173.70" y="276.30" width="4.80" height="4.70" fill="#fff" stroke="#8c8c8c" stroke-width="0.6" />
<ellipse cx="176.10" cy="278.65" rx="2.00" ry="0.60" transform="rotate(-50 176.10 278.65)" fill="#888" opacity="1.0"/>
<rect x="167.50" y="288.60" width="5.50" height="6.80" fill="#fff" stroke="#8c8c8c" stroke-width="0.6" />
<ellipse cx="170.25" cy="292.00" rx="2.10" ry="1.17" transform="rotate(-60 170.25 292.00)" fill="#a8c8f4" opacity="0.8" filter="url(#bl2)"/>
<circle cx="170.26" cy="291.66" r="0.42" fill="#6aa6f0" opacity="0.75"/>
<circle cx="170.47" cy="291.48" r="0.42" fill="#6aa6f0" opacity="0.75"/>
<circle cx="169.40" cy="291.09" r="0.42" fill="#6aa6f0" opacity="0.75"/>
<circle cx="169.76" cy="291.25" r="0.42" fill="#6aa6f0" opacity="0.75"/>
<circle cx="169.29" cy="292.78" r="0.42" fill="#6aa6f0" opacity="0.75"/>
<circle cx="169.17" cy="292.81" r="0.42" fill="#6aa6f0" opacity="0.75"/>
<circle cx="169.41" cy="292.43" r="0.42" fill="#6aa6f0" opacity="0.75"/>
<circle cx="171.38" cy="292.25" r="0.42" fill="#6aa6f0" opacity="0.75"/>
<circle cx="169.65" cy="292.06" r="0.42" fill="#6aa6f0" opacity="0.75"/>
<circle cx="170.37" cy="289.88" r="0.42" fill="#6aa6f0" opacity="0.75"/>
<circle cx="169.75" cy="292.20" r="0.42" fill="#6aa6f0" opacity="0.75"/>
<circle cx="169.86" cy="292.10" r="0.42" fill="#6aa6f0" opacity="0.75"/>
<circle cx="170.86" cy="292.94" r="0.42" fill="#6aa6f0" opacity="0.75"/>
<circle cx="171.00" cy="292.72" r="0.42" fill="#6aa6f0" opacity="0.75"/>
<circle cx="170.01" cy="291.98" r="0.42" fill="#6aa6f0" opacity="0.75"/>
<circle cx="170.03" cy="291.62" r="0.42" fill="#6aa6f0" opacity="0.75"/>
<circle cx="170.10" cy="289.89" r="0.42" fill="#6aa6f0" opacity="0.75"/>
<circle cx="169.98" cy="291.97" r="0.42" fill="#6aa6f0" opacity="0.75"/>
<circle cx="169.45" cy="291.97" r="0.42" fill="#6aa6f0" opacity="0.75"/>
<circle cx="170.68" cy="291.80" r="0.42" fill="#6aa6f0" opacity="0.75"/>
<circle cx="171.96" cy="289.40" r="0.42" fill="#6aa6f0" opacity="0.75"/>
<circle cx="170.08" cy="289.77" r="0.42" fill="#6aa6f0" opacity="0.75"/>
<circle cx="171.06" cy="294.60" r="0.42" fill="#6aa6f0" opacity="0.75"/>
<circle cx="168.30" cy="292.16" r="0.42" fill="#6aa6f0" opacity="0.75"/>
<circle cx="170.68" cy="291.63" r="0.42" fill="#6aa6f0" opacity="0.75"/>
<circle cx="170.71" cy="289.40" r="0.42" fill="#6aa6f0" opacity="0.75"/>
<circle cx="170.95" cy="292.46" r="0.42" fill="#6aa6f0" opacity="0.75"/>
<circle cx="170.27" cy="291.28" r="0.42" fill="#6aa6f0" opacity="0.75"/>
<circle cx="170.78" cy="291.41" r="0.42" fill="#6aa6f0" opacity="0.75"/>
<circle cx="170.43" cy="291.38" r="0.42" fill="#6aa6f0" opacity="0.75"/>
<rect x="174.40" y="290.60" width="5.40" height="8.90" fill="#fff" stroke="#777" stroke-width="0.55" />
<ellipse cx="177.10" cy="295.00" rx="2.75" ry="0.65" transform="rotate(-65 177.10 295.00)" fill="#f07070" opacity="0.7" filter="url(#bl)"/>
<ellipse cx="185.30" cy="250.90" rx="3.25" ry="1.50" transform="rotate(-45 185.30 250.90)" fill="#fde8e8" stroke="#999" stroke-width="0.5"/>
<ellipse cx="185.30" cy="250.90" rx="2.27" ry="0.80" transform="rotate(-45 185.30 250.90)" fill="#f02424" opacity="1.0"/>
<ellipse cx="188.00" cy="272.50" rx="2.50" ry="0.55" transform="rotate(-40 188.00 272.50)" fill="#f06060" opacity="0.85"/>
<ellipse cx="185.50" cy="282.00" rx="3.50" ry="1.50" transform="rotate(-50 185.50 282.00)" fill="#fde8e8" stroke="#999" stroke-width="0.5"/>
<ellipse cx="185.50" cy="282.00" rx="2.10" ry="0.80" transform="rotate(-50 185.50 282.00)" fill="#f02424" opacity="1.0"/>
<ellipse cx="181.50" cy="289.50" rx="4.00" ry="1.50" transform="rotate(-55 181.50 289.50)" fill="#fde6e6" stroke="#999" stroke-width="0.5"/>
<ellipse cx="181.50" cy="289.50" rx="2.60" ry="0.70" transform="rotate(-55 181.50 289.50)" fill="#f47070" opacity="0.8"/>
<text x="188.00" y="247.07" font-size="2.5" font-weight="normal" text-anchor="middle" fill="#222" >CD69</text>
<text x="171.60" y="253.18" font-size="2.5" font-weight="normal" text-anchor="middle" fill="#222" >CD42b</text>
<text x="164.10" y="260.68" font-size="2.5" font-weight="normal" text-anchor="middle" fill="#222" >CD40</text>
<text x="161.40" y="267.57" font-size="2.5" font-weight="normal" text-anchor="middle" fill="#222" >CD3</text>
<text x="152.10" y="273.98" font-size="2.5" font-weight="normal" text-anchor="middle" fill="#222" >HLA-ABC</text>
<text x="198.30" y="272.98" font-size="2.5" font-weight="normal" text-anchor="middle" fill="#222" >CD41b</text>
<text x="194.20" y="284.68" font-size="2.5" font-weight="normal" text-anchor="middle" fill="#222" >CD29</text>
<text x="191.50" y="291.48" font-size="2.5" font-weight="normal" text-anchor="middle" fill="#222" >CD42a</text>
<text x="180.50" y="303.77" font-size="2.5" font-weight="normal" text-anchor="middle" fill="#222" >CD62P</text>
<text x="166.60" y="313.07" font-size="2.5" font-weight="normal" text-anchor="middle" fill="#222" >CD4</text>
<rect x="135.60" y="404.60" width="83.80" height="83.40" fill="none" stroke="#b0b0b0" stroke-width="0.7" />
<line x1="135.60" y1="404.60" x2="135.60" y2="488.00" stroke="#8a8a8a" stroke-width="0.6" />
<line x1="135.60" y1="488.00" x2="219.40" y2="488.00" stroke="#8a8a8a" stroke-width="0.6" />
<text x="136.00" y="399.30" font-size="7.0" font-weight="bold" text-anchor="start" fill="#000" letter-spacing="0.0" stroke="#000" stroke-width="0.2">Spots of B7-H3<tspan font-size="4.2" dy="-2.6">Dim</tspan><tspan dy="2.6"> EVs</tspan></text>
<line x1="147.00" y1="488.00" x2="147.00" y2="489.30" stroke="#666" stroke-width="0.5" />
<text transform="translate(147.90,490.00) rotate(-45)" font-size="3.1" text-anchor="end" fill="#333">10<tspan font-size="2.1" dy="-1.0">2</tspan></text>
<line x1="134.30" y1="412.02" x2="135.60" y2="412.02" stroke="#666" stroke-width="0.5" />
<text transform="translate(134.00,412.62) rotate(-45)" font-size="3.1" text-anchor="end" fill="#333">10<tspan font-size="2.1" dy="-1.0">5</tspan></text>
<line x1="168.03" y1="488.00" x2="168.03" y2="489.30" stroke="#666" stroke-width="0.5" />
<text transform="translate(168.93,490.00) rotate(-45)" font-size="3.1" text-anchor="end" fill="#333">10<tspan font-size="2.1" dy="-1.0">3</tspan></text>
<line x1="134.30" y1="433.96" x2="135.60" y2="433.96" stroke="#666" stroke-width="0.5" />
<text transform="translate(134.00,434.56) rotate(-45)" font-size="3.1" text-anchor="end" fill="#333">10<tspan font-size="2.1" dy="-1.0">4</tspan></text>
<line x1="188.98" y1="488.00" x2="188.98" y2="489.30" stroke="#666" stroke-width="0.5" />
<text transform="translate(189.88,490.00) rotate(-45)" font-size="3.1" text-anchor="end" fill="#333">10<tspan font-size="2.1" dy="-1.0">4</tspan></text>
<line x1="134.30" y1="455.06" x2="135.60" y2="455.06" stroke="#666" stroke-width="0.5" />
<text transform="translate(134.00,455.66) rotate(-45)" font-size="3.1" text-anchor="end" fill="#333">10<tspan font-size="2.1" dy="-1.0">3</tspan></text>
<line x1="211.02" y1="488.00" x2="211.02" y2="489.30" stroke="#666" stroke-width="0.5" />
<text transform="translate(211.92,490.00) rotate(-45)" font-size="3.1" text-anchor="end" fill="#333">10<tspan font-size="2.1" dy="-1.0">5</tspan></text>
<line x1="134.30" y1="476.16" x2="135.60" y2="476.16" stroke="#666" stroke-width="0.5" />
<text transform="translate(134.00,476.76) rotate(-45)" font-size="3.1" text-anchor="end" fill="#333">10<tspan font-size="2.1" dy="-1.0">2</tspan></text>
<line x1="135.60" y1="488.60" x2="219.40" y2="488.60" stroke="#999" stroke-width="0.6" stroke-dasharray="0.5 1.8"/>
<line x1="135.00" y1="404.60" x2="135.00" y2="488.00" stroke="#999" stroke-width="0.6" stroke-dasharray="0.5 1.8"/>
<text x="180.00" y="500.60" font-size="4.85" font-weight="normal" text-anchor="middle" fill="#000" stroke="#000" stroke-width="0.12">ExoCaptBeads FITC-A</text>
<text transform="translate(129.10,439.40) rotate(-90)" font-size="4.8" text-anchor="middle" fill="#000" stroke="#000" stroke-width="0.12">ExoCaptBeads PE-A</text>
<ellipse cx="181.10" cy="420.30" rx="2.80" ry="0.53" transform="rotate(-48 181.10 420.30)" fill="#5a5a5a" opacity="0.7" filter="url(#bl)"/>
<ellipse cx="186.60" cy="420.30" rx="2.80" ry="0.53" transform="rotate(-48 186.60 420.30)" fill="#5a5a5a" opacity="0.7" filter="url(#bl)"/>
<ellipse cx="191.40" cy="420.30" rx="2.80" ry="0.53" transform="rotate(-48 191.40 420.30)" fill="#5a5a5a" opacity="0.7" filter="url(#bl)"/>
<ellipse cx="174.90" cy="427.10" rx="2.80" ry="0.53" transform="rotate(-48 174.90 427.10)" fill="#5a5a5a" opacity="0.7" filter="url(#bl)"/>
<ellipse cx="179.70" cy="427.80" rx="2.80" ry="0.53" transform="rotate(-48 179.70 427.80)" fill="#5a5a5a" opacity="0.7" filter="url(#bl)"/>
<ellipse cx="190.00" cy="427.80" rx="2.80" ry="0.53" transform="rotate(-48 190.00 427.80)" fill="#5a5a5a" opacity="0.7" filter="url(#bl)"/>
<ellipse cx="169.50" cy="432.60" rx="2.80" ry="0.53" transform="rotate(-48 169.50 432.60)" fill="#5a5a5a" opacity="0.7" filter="url(#bl)"/>
<ellipse cx="174.90" cy="433.30" rx="2.80" ry="0.53" transform="rotate(-48 174.90 433.30)" fill="#5a5a5a" opacity="0.7" filter="url(#bl)"/>
<ellipse cx="180.40" cy="433.30" rx="2.80" ry="0.53" transform="rotate(-48 180.40 433.30)" fill="#5a5a5a" opacity="0.7" filter="url(#bl)"/>
<ellipse cx="184.50" cy="434.00" rx="2.80" ry="0.53" transform="rotate(-48 184.50 434.00)" fill="#5a5a5a" opacity="0.7" filter="url(#bl)"/>
<ellipse cx="191.40" cy="434.70" rx="2.80" ry="0.53" transform="rotate(-48 191.40 434.70)" fill="#5a5a5a" opacity="0.7" filter="url(#bl)"/>
<ellipse cx="161.90" cy="440.80" rx="2.80" ry="0.53" transform="rotate(-48 161.90 440.80)" fill="#5a5a5a" opacity="0.7" filter="url(#bl)"/>
<ellipse cx="174.20" cy="439.50" rx="2.80" ry="0.53" transform="rotate(-48 174.20 439.50)" fill="#5a5a5a" opacity="0.7" filter="url(#bl)"/>
<ellipse cx="180.40" cy="438.80" rx="2.80" ry="0.53" transform="rotate(-48 180.40 438.80)" fill="#5a5a5a" opacity="0.7" filter="url(#bl)"/>
<ellipse cx="185.20" cy="440.10" rx="2.80" ry="0.53" transform="rotate(-48 185.20 440.10)" fill="#5a5a5a" opacity="0.7" filter="url(#bl)"/>
<ellipse cx="191.40" cy="438.80" rx="2.80" ry="0.53" transform="rotate(-48 191.40 438.80)" fill="#5a5a5a" opacity="0.7" filter="url(#bl)"/>
<ellipse cx="161.90" cy="447.00" rx="2.80" ry="0.53" transform="rotate(-48 161.90 447.00)" fill="#5a5a5a" opacity="0.7" filter="url(#bl)"/>
<ellipse cx="168.80" cy="447.00" rx="2.80" ry="0.53" transform="rotate(-48 168.80 447.00)" fill="#5a5a5a" opacity="0.7" filter="url(#bl)"/>
<ellipse cx="180.40" cy="447.00" rx="2.80" ry="0.53" transform="rotate(-48 180.40 447.00)" fill="#5a5a5a" opacity="0.7" filter="url(#bl)"/>
<ellipse cx="185.90" cy="442.90" rx="2.80" ry="0.53" transform="rotate(-48 185.90 442.90)" fill="#5a5a5a" opacity="0.7" filter="url(#bl)"/>
<ellipse cx="190.70" cy="446.30" rx="2.80" ry="0.53" transform="rotate(-48 190.70 446.30)" fill="#5a5a5a" opacity="0.7" filter="url(#bl)"/>
<ellipse cx="161.90" cy="453.80" rx="2.80" ry="0.53" transform="rotate(-48 161.90 453.80)" fill="#5a5a5a" opacity="0.7" filter="url(#bl)"/>
<ellipse cx="168.80" cy="453.80" rx="2.80" ry="0.53" transform="rotate(-48 168.80 453.80)" fill="#5a5a5a" opacity="0.7" filter="url(#bl)"/>
<ellipse cx="174.90" cy="453.80" rx="2.80" ry="0.53" transform="rotate(-48 174.90 453.80)" fill="#5a5a5a" opacity="0.7" filter="url(#bl)"/>
<ellipse cx="181.10" cy="451.10" rx="2.80" ry="0.53" transform="rotate(-48 181.10 451.10)" fill="#5a5a5a" opacity="0.7" filter="url(#bl)"/>
<ellipse cx="186.60" cy="451.10" rx="2.80" ry="0.53" transform="rotate(-48 186.60 451.10)" fill="#5a5a5a" opacity="0.7" filter="url(#bl)"/>
<ellipse cx="161.90" cy="460.00" rx="2.80" ry="0.53" transform="rotate(-48 161.90 460.00)" fill="#5a5a5a" opacity="0.7" filter="url(#bl)"/>
<ellipse cx="174.90" cy="462.10" rx="2.80" ry="0.53" transform="rotate(-48 174.90 462.10)" fill="#5a5a5a" opacity="0.7" filter="url(#bl)"/>
<ellipse cx="181.10" cy="456.60" rx="2.80" ry="0.53" transform="rotate(-48 181.10 456.60)" fill="#5a5a5a" opacity="0.7" filter="url(#bl)"/>
<ellipse cx="161.90" cy="467.50" rx="2.80" ry="0.53" transform="rotate(-48 161.90 467.50)" fill="#5a5a5a" opacity="0.7" filter="url(#bl)"/>
<ellipse cx="168.80" cy="468.90" rx="2.80" ry="0.53" transform="rotate(-48 168.80 468.90)" fill="#5a5a5a" opacity="0.7" filter="url(#bl)"/>
<ellipse cx="174.90" cy="464.80" rx="2.80" ry="0.53" transform="rotate(-48 174.90 464.80)" fill="#5a5a5a" opacity="0.7" filter="url(#bl)"/>
<ellipse cx="155.80" cy="446.30" rx="2.25" ry="1.10" transform="rotate(-50 155.80 446.30)" fill="#9a9a9a" opacity="0.35" filter="url(#bl2)"/>
<circle cx="153.10" cy="446.26" r="0.33" fill="#888" opacity="0.45"/>
<circle cx="156.04" cy="447.21" r="0.33" fill="#888" opacity="0.45"/>
<circle cx="154.75" cy="446.26" r="0.33" fill="#888" opacity="0.45"/>
<circle cx="156.54" cy="446.47" r="0.33" fill="#888" opacity="0.45"/>
<circle cx="157.29" cy="448.69" r="0.33" fill="#888" opacity="0.45"/>
<circle cx="154.71" cy="443.99" r="0.33" fill="#888" opacity="0.45"/>
<circle cx="156.83" cy="448.14" r="0.33" fill="#888" opacity="0.45"/>
<circle cx="156.91" cy="447.28" r="0.33" fill="#888" opacity="0.45"/>
<ellipse cx="148.20" cy="453.80" rx="2.25" ry="1.10" transform="rotate(-50 148.20 453.80)" fill="#9a9a9a" opacity="0.35" filter="url(#bl2)"/>
<circle cx="147.46" cy="452.94" r="0.33" fill="#888" opacity="0.45"/>
<circle cx="149.27" cy="452.71" r="0.33" fill="#888" opacity="0.45"/>
<circle cx="146.02" cy="452.60" r="0.33" fill="#888" opacity="0.45"/>
<circle cx="151.19" cy="456.11" r="0.33" fill="#888" opacity="0.45"/>
<circle cx="147.38" cy="452.93" r="0.33" fill="#888" opacity="0.45"/>
<circle cx="148.48" cy="452.90" r="0.33" fill="#888" opacity="0.45"/>
<circle cx="149.77" cy="453.71" r="0.33" fill="#888" opacity="0.45"/>
<circle cx="146.90" cy="455.37" r="0.33" fill="#888" opacity="0.45"/>
<ellipse cx="148.20" cy="459.30" rx="2.25" ry="1.10" transform="rotate(-50 148.20 459.30)" fill="#9a9a9a" opacity="0.35" filter="url(#bl2)"/>
<circle cx="147.50" cy="459.57" r="0.33" fill="#888" opacity="0.45"/>
<circle cx="148.18" cy="458.92" r="0.33" fill="#888" opacity="0.45"/>
<circle cx="148.59" cy="458.47" r="0.33" fill="#888" opacity="0.45"/>
<circle cx="145.99" cy="456.65" r="0.33" fill="#888" opacity="0.45"/>
<circle cx="146.68" cy="458.39" r="0.33" fill="#888" opacity="0.45"/>
<circle cx="148.17" cy="459.37" r="0.33" fill="#888" opacity="0.45"/>
<circle cx="148.87" cy="459.44" r="0.33" fill="#888" opacity="0.45"/>
<circle cx="147.25" cy="458.45" r="0.33" fill="#888" opacity="0.45"/>
<ellipse cx="156.40" cy="466.20" rx="2.25" ry="1.10" transform="rotate(-50 156.40 466.20)" fill="#9a9a9a" opacity="0.35" filter="url(#bl2)"/>
<circle cx="153.86" cy="466.00" r="0.33" fill="#888" opacity="0.45"/>
<circle cx="156.98" cy="466.84" r="0.33" fill="#888" opacity="0.45"/>
<circle cx="156.25" cy="465.99" r="0.33" fill="#888" opacity="0.45"/>
<circle cx="157.52" cy="466.22" r="0.33" fill="#888" opacity="0.45"/>
<circle cx="157.29" cy="466.90" r="0.33" fill="#888" opacity="0.45"/>
<circle cx="156.66" cy="467.77" r="0.33" fill="#888" opacity="0.45"/>
<circle cx="155.71" cy="465.77" r="0.33" fill="#888" opacity="0.45"/>
<circle cx="155.43" cy="465.24" r="0.33" fill="#888" opacity="0.45"/>
<ellipse cx="169.50" cy="473.00" rx="2.25" ry="1.10" transform="rotate(-50 169.50 473.00)" fill="#9a9a9a" opacity="0.35" filter="url(#bl2)"/>
<circle cx="171.37" cy="475.11" r="0.33" fill="#888" opacity="0.45"/>
<circle cx="169.53" cy="473.68" r="0.33" fill="#888" opacity="0.45"/>
<circle cx="170.91" cy="473.97" r="0.33" fill="#888" opacity="0.45"/>
<circle cx="170.95" cy="471.48" r="0.33" fill="#888" opacity="0.45"/>
<circle cx="168.73" cy="473.54" r="0.33" fill="#888" opacity="0.45"/>
<circle cx="171.22" cy="473.12" r="0.33" fill="#888" opacity="0.45"/>
<circle cx="168.47" cy="472.57" r="0.33" fill="#888" opacity="0.45"/>
<circle cx="168.71" cy="471.97" r="0.33" fill="#888" opacity="0.45"/>
<ellipse cx="162.00" cy="474.00" rx="2.25" ry="1.10" transform="rotate(-50 162.00 474.00)" fill="#9a9a9a" opacity="0.35" filter="url(#bl2)"/>
<circle cx="163.80" cy="473.25" r="0.33" fill="#888" opacity="0.45"/>
<circle cx="162.02" cy="476.59" r="0.33" fill="#888" opacity="0.45"/>
<circle cx="163.42" cy="474.40" r="0.33" fill="#888" opacity="0.45"/>
<circle cx="161.27" cy="474.49" r="0.33" fill="#888" opacity="0.45"/>
<circle cx="163.95" cy="474.75" r="0.33" fill="#888" opacity="0.45"/>
<circle cx="163.51" cy="474.12" r="0.33" fill="#888" opacity="0.45"/>
<circle cx="162.62" cy="473.76" r="0.33" fill="#888" opacity="0.45"/>
<circle cx="162.51" cy="475.56" r="0.33" fill="#888" opacity="0.45"/>
<rect x="166.00" y="436.70" width="5.50" height="5.10" fill="#fff" stroke="#8c8c8c" stroke-width="0.6" />
<ellipse cx="168.75" cy="439.25" rx="2.17" ry="0.60" transform="rotate(-50 168.75 439.25)" fill="#5a90d8" opacity="0.8"/>
<rect x="172.60" y="445.30" width="5.10" height="5.10" fill="#fff" stroke="#8c8c8c" stroke-width="0.6" />
<ellipse cx="175.15" cy="447.85" rx="2.17" ry="0.60" transform="rotate(-50 175.15 447.85)" fill="#5a90d8" opacity="0.8"/>
<rect x="153.70" y="450.40" width="5.50" height="5.10" fill="#fff" stroke="#8c8c8c" stroke-width="0.6" />
<ellipse cx="156.45" cy="452.95" rx="2.17" ry="0.85" transform="rotate(-50 156.45 452.95)" fill="#f03030" opacity="1.0"/>
<rect x="153.70" y="457.30" width="5.80" height="4.80" fill="#fff" stroke="#8c8c8c" stroke-width="0.6" />
<ellipse cx="156.60" cy="459.70" rx="2.04" ry="0.65" transform="rotate(-50 156.60 459.70)" fill="#f07070" opacity="0.8"/>
<rect x="146.20" y="462.70" width="7.50" height="6.90" fill="#fff" stroke="#666" stroke-width="0.6" />
<circle cx="148.04" cy="466.03" r="0.40" fill="#f07070" opacity="0.75"/>
<circle cx="150.21" cy="465.47" r="0.40" fill="#f07070" opacity="0.75"/>
<circle cx="149.50" cy="466.97" r="0.40" fill="#f07070" opacity="0.75"/>
<circle cx="152.50" cy="466.79" r="0.40" fill="#f07070" opacity="0.75"/>
<circle cx="150.32" cy="464.39" r="0.40" fill="#f07070" opacity="0.75"/>
<circle cx="152.41" cy="466.18" r="0.40" fill="#f07070" opacity="0.75"/>
<circle cx="149.86" cy="464.87" r="0.40" fill="#f07070" opacity="0.75"/>
<circle cx="149.83" cy="464.89" r="0.40" fill="#f07070" opacity="0.75"/>
<circle cx="149.99" cy="466.61" r="0.40" fill="#f07070" opacity="0.75"/>
<circle cx="149.94" cy="466.41" r="0.40" fill="#f07070" opacity="0.75"/>
<circle cx="148.79" cy="467.67" r="0.40" fill="#f07070" opacity="0.75"/>
<circle cx="149.05" cy="464.10" r="0.40" fill="#f07070" opacity="0.75"/>
<circle cx="149.66" cy="465.26" r="0.40" fill="#f07070" opacity="0.75"/>
<circle cx="148.59" cy="465.71" r="0.40" fill="#f07070" opacity="0.75"/>
<circle cx="150.28" cy="464.80" r="0.40" fill="#f07070" opacity="0.75"/>
<circle cx="149.72" cy="467.67" r="0.40" fill="#f07070" opacity="0.75"/>
<circle cx="150.79" cy="465.93" r="0.40" fill="#f07070" opacity="0.75"/>
<circle cx="150.07" cy="465.97" r="0.40" fill="#f07070" opacity="0.75"/>
<circle cx="149.84" cy="466.91" r="0.40" fill="#f07070" opacity="0.75"/>
<circle cx="149.78" cy="463.46" r="0.40" fill="#f07070" opacity="0.75"/>
<circle cx="149.87" cy="465.12" r="0.40" fill="#f07070" opacity="0.75"/>
<circle cx="150.75" cy="465.43" r="0.40" fill="#f07070" opacity="0.75"/>
<rect x="166.70" y="455.90" width="4.50" height="8.20" fill="#fff" stroke="#777" stroke-width="0.55" />
<ellipse cx="169.00" cy="460.00" rx="2.25" ry="0.50" transform="rotate(-75 169.00 460.00)" fill="#aaa" opacity="0.6"/>
<ellipse cx="184.50" cy="426.40" rx="3.00" ry="1.50" transform="rotate(-45 184.50 426.40)" fill="#fdeaea" stroke="#999" stroke-width="0.5"/>
<ellipse cx="184.50" cy="426.40" rx="1.80" ry="0.65" transform="rotate(-45 184.50 426.40)" fill="#f07070" opacity="1.0"/>
<text x="192.70" y="423.77" font-size="2.2" font-weight="normal" text-anchor="middle" fill="#222" >CD69</text>
<text x="161.90" y="436.07" font-size="2.2" font-weight="normal" text-anchor="middle" fill="#222" >CD40</text>
<text x="179.70" y="445.67" font-size="2.2" font-weight="normal" text-anchor="middle" fill="#222" >CD31</text>
<text x="148.90" y="451.87" font-size="2.2" font-weight="normal" text-anchor="middle" fill="#222" >CD56</text>
<text x="147.50" y="458.07" font-size="2.2" font-weight="normal" text-anchor="middle" fill="#222" >HLA-DR</text>
<text x="148.90" y="473.77" font-size="2.2" font-weight="normal" text-anchor="middle" fill="#222" >CD3</text>
<text x="172.90" y="468.27" font-size="2.2" font-weight="normal" text-anchor="middle" fill="#222" >CD45</text>
</svg></body></html>
